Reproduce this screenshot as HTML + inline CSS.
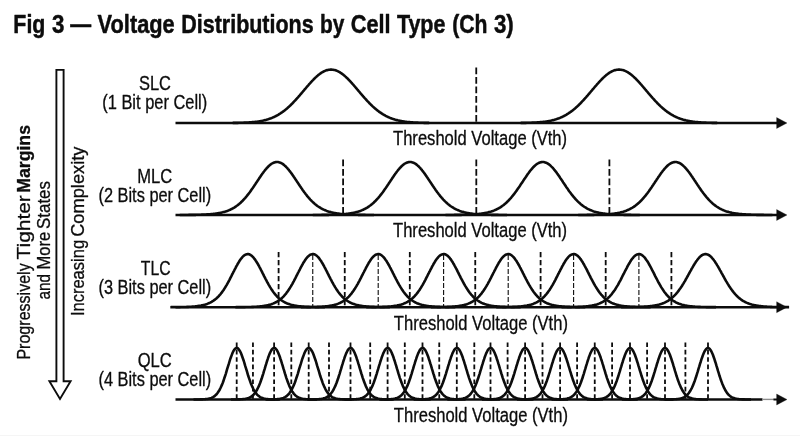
<!DOCTYPE html>
<html><head><meta charset="utf-8"><title>Fig 3</title>
<style>html,body{margin:0;padding:0;background:#fff;}body{width:800px;height:436px;overflow:hidden;font-family:"Liberation Sans",sans-serif;}</style></head>
<body>
<svg width="800" height="436" viewBox="0 0 800 436" style="display:block;will-change:transform;transform:translateZ(0)">
<rect width="800" height="436" fill="#ffffff"/>
<g font-family="Liberation Sans, sans-serif" fill="#0c0c0c" stroke="#0c0c0c" stroke-width="0.3" stroke-linejoin="round">
<g stroke-width="0.5">
<text transform="translate(13.36,32.8) scale(0.8015,1)" font-size="26.6" font-weight="700">Fig</text>
<text transform="translate(52.10,32.8) scale(0.8388,1)" font-size="26.6" font-weight="700">3</text>
<text transform="translate(70.30,32.8) scale(0.7857,1)" font-size="26.6" font-weight="700">—</text>
<text transform="translate(97.59,32.8) scale(0.8201,1)" font-size="26.6" font-weight="700">Voltage</text>
<text transform="translate(181.30,32.8) scale(0.8071,1)" font-size="26.6" font-weight="700">Distributions</text>
<text transform="translate(320.04,32.8) scale(0.7862,1)" font-size="26.6" font-weight="700">by</text>
<text transform="translate(350.73,32.8) scale(0.8163,1)" font-size="26.6" font-weight="700">Cell</text>
<text transform="translate(396.88,32.8) scale(0.8087,1)" font-size="26.6" font-weight="700">Type</text>
<text transform="translate(452.14,32.8) scale(0.7966,1)" font-size="26.6" font-weight="700">(Ch</text>
<text transform="translate(493.95,32.8) scale(0.8372,1)" font-size="26.6" font-weight="700">3)</text>
</g>
<text transform="translate(29.6,359.6) rotate(-90)" font-size="19.0"  textLength="96.3" lengthAdjust="spacingAndGlyphs">Progressively</text>
<text transform="translate(29.6,259.5) rotate(-90)" font-size="19.0"  textLength="64.3" lengthAdjust="spacingAndGlyphs">Tighter</text>
<text transform="translate(29.6,192.8) rotate(-90)" font-size="19.0" font-weight="700" textLength="67.8" lengthAdjust="spacingAndGlyphs">Margins</text>
<text transform="translate(49.5,299.4) rotate(-90)" font-size="19.0"  textLength="25.4" lengthAdjust="spacingAndGlyphs">and</text>
<text transform="translate(49.5,269.6) rotate(-90)" font-size="19.0"  textLength="37.8" lengthAdjust="spacingAndGlyphs">More</text>
<text transform="translate(49.5,229.0) rotate(-90)" font-size="19.0"  textLength="48.0" lengthAdjust="spacingAndGlyphs">States</text>
<text transform="translate(83.5,316.1) rotate(-90)" font-size="19.0"  textLength="76.2" lengthAdjust="spacingAndGlyphs">Increasing</text>
<text transform="translate(83.5,236.8) rotate(-90)" font-size="19.0"  textLength="90.2" lengthAdjust="spacingAndGlyphs">Complexity</text>
<path d="M56.4,69.9 H63.6 V381.2 H70.6 L60,399.0 L49.4,381.2 H56.4 Z" fill="#fff" stroke="#0c0c0c" stroke-width="1.9" stroke-linejoin="miter"/>
<text transform="translate(138.96,90.1) scale(0.8480,1)" font-size="19.4">SLC</text>
<text transform="translate(102.22,109.0) scale(0.8479,1)" font-size="19.4">(1 Bit per Cell)</text>
<text transform="translate(393.03,145.2) scale(0.8548,1)" font-size="19.4">Threshold Voltage (Vth)</text>
<line x1="476.25" y1="67.4" x2="476.25" y2="123.0" stroke="#0c0c0c" stroke-width="1.8" stroke-dasharray="6.8 2.7"/>
<line x1="175.5" y1="123.0" x2="778" y2="123.0" stroke="#0c0c0c" stroke-width="2.4"/>
<path d="M776.6,117.5 L787,123.0 L776.6,128.5 Z" fill="#0c0c0c"/>
<path d="M232.7,122.92 L233.5,122.91 L234.2,122.90 L235.0,122.89 L235.7,122.88 L236.5,122.87 L237.2,122.85 L238.0,122.84 L238.7,122.82 L239.5,122.81 L240.2,122.79 L241.0,122.77 L241.7,122.75 L242.5,122.72 L243.2,122.70 L244.0,122.67 L244.7,122.64 L245.5,122.61 L246.2,122.57 L247.0,122.53 L247.7,122.49 L248.5,122.45 L249.2,122.40 L250.0,122.35 L250.7,122.29 L251.5,122.23 L252.2,122.17 L253.0,122.10 L253.7,122.03 L254.5,121.95 L255.2,121.87 L256.0,121.78 L256.7,121.68 L257.5,121.58 L258.2,121.47 L259.0,121.36 L259.7,121.23 L260.5,121.10 L261.2,120.96 L262.0,120.82 L262.7,120.66 L263.5,120.49 L264.2,120.32 L265.0,120.13 L265.7,119.94 L266.5,119.73 L267.2,119.51 L268.0,119.28 L268.7,119.04 L269.5,118.79 L270.2,118.52 L271.0,118.24 L271.7,117.95 L272.5,117.64 L273.2,117.31 L274.0,116.98 L274.7,116.62 L275.5,116.25 L276.2,115.87 L277.0,115.47 L277.7,115.05 L278.5,114.61 L279.2,114.16 L280.0,113.69 L280.7,113.21 L281.5,112.70 L282.2,112.18 L283.0,111.64 L283.7,111.08 L284.5,110.51 L285.2,109.91 L286.0,109.30 L286.7,108.67 L287.5,108.02 L288.2,107.36 L289.0,106.68 L289.7,105.98 L290.5,105.26 L291.2,104.53 L292.0,103.78 L292.7,103.02 L293.5,102.24 L294.2,101.45 L295.0,100.65 L295.7,99.83 L296.5,99.00 L297.2,98.16 L298.0,97.32 L298.7,96.46 L299.5,95.59 L300.2,94.72 L301.0,93.84 L301.7,92.96 L302.5,92.07 L303.2,91.18 L304.0,90.29 L304.7,89.40 L305.5,88.51 L306.2,87.63 L307.0,86.75 L307.7,85.88 L308.5,85.01 L309.2,84.16 L310.0,83.31 L310.7,82.48 L311.5,81.66 L312.2,80.85 L313.0,80.06 L313.7,79.29 L314.5,78.54 L315.2,77.82 L316.0,77.11 L316.7,76.43 L317.5,75.77 L318.2,75.14 L319.0,74.54 L319.7,73.97 L320.5,73.43 L321.2,72.92 L322.0,72.44 L322.7,72.00 L323.5,71.59 L324.2,71.22 L325.0,70.89 L325.7,70.59 L326.5,70.33 L327.2,70.11 L328.0,69.93 L328.7,69.79 L329.5,69.68 L330.2,69.62 L331.0,69.60 L331.7,69.62 L332.5,69.68 L333.2,69.78 L334.0,69.92 L334.7,70.09 L335.5,70.31 L336.2,70.57 L337.0,70.86 L337.7,71.19 L338.5,71.56 L339.2,71.97 L340.0,72.41 L340.7,72.88 L341.5,73.39 L342.2,73.92 L343.0,74.49 L343.7,75.09 L344.5,75.72 L345.2,76.37 L346.0,77.05 L346.7,77.76 L347.5,78.48 L348.2,79.23 L349.0,80.00 L349.7,80.79 L350.5,81.59 L351.2,82.41 L352.0,83.24 L352.7,84.09 L353.5,84.94 L354.2,85.81 L355.0,86.68 L355.7,87.56 L356.5,88.44 L357.2,89.33 L358.0,90.22 L358.7,91.11 L359.5,92.00 L360.2,92.89 L361.0,93.77 L361.7,94.65 L362.5,95.52 L363.2,96.39 L364.0,97.25 L364.7,98.10 L365.5,98.94 L366.2,99.77 L367.0,100.58 L367.7,101.39 L368.5,102.18 L369.2,102.96 L370.0,103.72 L370.7,104.47 L371.5,105.20 L372.2,105.92 L373.0,106.62 L373.7,107.30 L374.5,107.97 L375.2,108.62 L376.0,109.25 L376.7,109.86 L377.5,110.46 L378.2,111.04 L379.0,111.60 L379.7,112.14 L380.5,112.66 L381.2,113.17 L382.0,113.65 L382.7,114.13 L383.5,114.58 L384.2,115.01 L385.0,115.43 L385.7,115.84 L386.5,116.22 L387.2,116.59 L388.0,116.95 L388.7,117.29 L389.5,117.61 L390.2,117.92 L391.0,118.22 L391.7,118.50 L392.5,118.77 L393.2,119.02 L394.0,119.27 L394.7,119.50 L395.5,119.71 L396.2,119.92 L397.0,120.12 L397.7,120.31 L398.5,120.48 L399.2,120.65 L400.0,120.80 L400.7,120.95 L401.5,121.09 L402.2,121.22 L403.0,121.35 L403.7,121.46 L404.5,121.57 L405.2,121.67 L406.0,121.77 L406.7,121.86 L407.5,121.94 L408.2,122.02 L409.0,122.10 L409.7,122.16 L410.5,122.23 L411.2,122.29 L412.0,122.34 L412.7,122.39 L413.5,122.44 L414.2,122.49 L415.0,122.53 L415.7,122.57 L416.5,122.60 L417.2,122.64 L418.0,122.67 L418.7,122.69 L419.5,122.72 L420.2,122.74 L421.0,122.77 L421.7,122.79 L422.5,122.81 L423.2,122.82 L424.0,122.84 L424.7,122.85 L425.5,122.87 L426.2,122.88 L427.0,122.89 L427.7,122.90 L428.5,122.91 L429.2,122.92" fill="none" stroke="#0c0c0c" stroke-width="2.6" stroke-linejoin="round"/>
<path d="M520.7,122.92 L521.5,122.91 L522.2,122.90 L523.0,122.89 L523.7,122.88 L524.5,122.87 L525.2,122.85 L526.0,122.84 L526.7,122.82 L527.5,122.81 L528.2,122.79 L529.0,122.77 L529.7,122.75 L530.5,122.72 L531.2,122.70 L532.0,122.67 L532.7,122.64 L533.5,122.61 L534.2,122.57 L535.0,122.53 L535.7,122.49 L536.5,122.45 L537.2,122.40 L538.0,122.35 L538.7,122.29 L539.5,122.23 L540.2,122.17 L541.0,122.10 L541.7,122.03 L542.5,121.95 L543.2,121.87 L544.0,121.78 L544.7,121.68 L545.5,121.58 L546.2,121.47 L547.0,121.36 L547.7,121.23 L548.5,121.10 L549.2,120.96 L550.0,120.82 L550.7,120.66 L551.5,120.49 L552.2,120.32 L553.0,120.13 L553.7,119.94 L554.5,119.73 L555.2,119.51 L556.0,119.28 L556.7,119.04 L557.5,118.79 L558.2,118.52 L559.0,118.24 L559.7,117.95 L560.5,117.64 L561.2,117.31 L562.0,116.98 L562.7,116.62 L563.5,116.25 L564.2,115.87 L565.0,115.47 L565.7,115.05 L566.5,114.61 L567.2,114.16 L568.0,113.69 L568.7,113.21 L569.5,112.70 L570.2,112.18 L571.0,111.64 L571.7,111.08 L572.5,110.51 L573.2,109.91 L574.0,109.30 L574.7,108.67 L575.5,108.02 L576.2,107.36 L577.0,106.68 L577.7,105.98 L578.5,105.26 L579.2,104.53 L580.0,103.78 L580.7,103.02 L581.5,102.24 L582.2,101.45 L583.0,100.65 L583.7,99.83 L584.5,99.00 L585.2,98.16 L586.0,97.32 L586.7,96.46 L587.5,95.59 L588.2,94.72 L589.0,93.84 L589.7,92.96 L590.5,92.07 L591.2,91.18 L592.0,90.29 L592.7,89.40 L593.5,88.51 L594.2,87.63 L595.0,86.75 L595.7,85.88 L596.5,85.01 L597.2,84.16 L598.0,83.31 L598.7,82.48 L599.5,81.66 L600.2,80.85 L601.0,80.06 L601.7,79.29 L602.5,78.54 L603.2,77.82 L604.0,77.11 L604.7,76.43 L605.5,75.77 L606.2,75.14 L607.0,74.54 L607.7,73.97 L608.5,73.43 L609.2,72.92 L610.0,72.44 L610.7,72.00 L611.5,71.59 L612.2,71.22 L613.0,70.89 L613.7,70.59 L614.5,70.33 L615.2,70.11 L616.0,69.93 L616.7,69.79 L617.5,69.68 L618.2,69.62 L619.0,69.60 L619.7,69.62 L620.5,69.68 L621.2,69.78 L622.0,69.92 L622.7,70.09 L623.5,70.31 L624.2,70.57 L625.0,70.86 L625.7,71.19 L626.5,71.56 L627.2,71.97 L628.0,72.41 L628.7,72.88 L629.5,73.39 L630.2,73.92 L631.0,74.49 L631.7,75.09 L632.5,75.72 L633.2,76.37 L634.0,77.05 L634.7,77.76 L635.5,78.48 L636.2,79.23 L637.0,80.00 L637.7,80.79 L638.5,81.59 L639.2,82.41 L640.0,83.24 L640.7,84.09 L641.5,84.94 L642.2,85.81 L643.0,86.68 L643.7,87.56 L644.5,88.44 L645.2,89.33 L646.0,90.22 L646.7,91.11 L647.5,92.00 L648.2,92.89 L649.0,93.77 L649.7,94.65 L650.5,95.52 L651.2,96.39 L652.0,97.25 L652.7,98.10 L653.5,98.94 L654.2,99.77 L655.0,100.58 L655.7,101.39 L656.5,102.18 L657.2,102.96 L658.0,103.72 L658.7,104.47 L659.5,105.20 L660.2,105.92 L661.0,106.62 L661.7,107.30 L662.5,107.97 L663.2,108.62 L664.0,109.25 L664.7,109.86 L665.5,110.46 L666.2,111.04 L667.0,111.60 L667.7,112.14 L668.5,112.66 L669.2,113.17 L670.0,113.65 L670.7,114.13 L671.5,114.58 L672.2,115.01 L673.0,115.43 L673.7,115.84 L674.5,116.22 L675.2,116.59 L676.0,116.95 L676.7,117.29 L677.5,117.61 L678.2,117.92 L679.0,118.22 L679.7,118.50 L680.5,118.77 L681.2,119.02 L682.0,119.27 L682.7,119.50 L683.5,119.71 L684.2,119.92 L685.0,120.12 L685.7,120.31 L686.5,120.48 L687.2,120.65 L688.0,120.80 L688.7,120.95 L689.5,121.09 L690.2,121.22 L691.0,121.35 L691.7,121.46 L692.5,121.57 L693.2,121.67 L694.0,121.77 L694.7,121.86 L695.5,121.94 L696.2,122.02 L697.0,122.10 L697.7,122.16 L698.5,122.23 L699.2,122.29 L700.0,122.34 L700.7,122.39 L701.5,122.44 L702.2,122.49 L703.0,122.53 L703.7,122.57 L704.5,122.60 L705.2,122.64 L706.0,122.67 L706.7,122.69 L707.5,122.72 L708.2,122.74 L709.0,122.77 L709.7,122.79 L710.5,122.81 L711.2,122.82 L712.0,122.84 L712.7,122.85 L713.5,122.87 L714.2,122.88 L715.0,122.89 L715.7,122.90 L716.5,122.91 L717.2,122.92" fill="none" stroke="#0c0c0c" stroke-width="2.6" stroke-linejoin="round"/>
<text transform="translate(137.13,182.5) scale(0.8548,1)" font-size="19.4">MLC</text>
<text transform="translate(98.48,201.6) scale(0.8435,1)" font-size="19.4">(2 Bits per Cell)</text>
<text transform="translate(393.03,237.2) scale(0.8548,1)" font-size="19.4">Threshold Voltage (Vth)</text>
<line x1="343.1" y1="159.4" x2="343.1" y2="215.0" stroke="#0c0c0c" stroke-width="1.8" stroke-dasharray="6.8 2.7"/>
<line x1="476.3" y1="159.4" x2="476.3" y2="215.0" stroke="#0c0c0c" stroke-width="1.8" stroke-dasharray="6.8 2.7"/>
<line x1="609.4" y1="159.4" x2="609.4" y2="215.0" stroke="#0c0c0c" stroke-width="1.8" stroke-dasharray="6.8 2.7"/>
<line x1="175.5" y1="215.0" x2="778" y2="215.0" stroke="#0c0c0c" stroke-width="2.4"/>
<path d="M776.6,209.5 L787,215.0 L776.6,220.5 Z" fill="#0c0c0c"/>
<path d="M179.8,214.98 L180.6,214.97 L181.3,214.97 L182.1,214.97 L182.8,214.96 L183.6,214.96 L184.3,214.96 L185.1,214.95 L185.8,214.95 L186.6,214.94 L187.3,214.94 L188.1,214.93 L188.8,214.92 L189.6,214.92 L190.3,214.91 L191.1,214.90 L191.8,214.89 L192.6,214.88 L193.3,214.87 L194.1,214.86 L194.8,214.84 L195.6,214.83 L196.3,214.81 L197.1,214.80 L197.8,214.78 L198.6,214.76 L199.3,214.74 L200.1,214.72 L200.8,214.69 L201.6,214.67 L202.3,214.64 L203.1,214.61 L203.8,214.57 L204.6,214.54 L205.3,214.50 L206.1,214.46 L206.8,214.42 L207.6,214.37 L208.3,214.32 L209.1,214.27 L209.8,214.21 L210.6,214.15 L211.3,214.08 L212.1,214.01 L212.8,213.94 L213.6,213.85 L214.3,213.77 L215.1,213.67 L215.8,213.57 L216.6,213.47 L217.3,213.35 L218.1,213.23 L218.8,213.10 L219.6,212.96 L220.3,212.81 L221.1,212.66 L221.8,212.49 L222.6,212.31 L223.3,212.12 L224.1,211.91 L224.8,211.69 L225.6,211.46 L226.3,211.22 L227.1,210.96 L227.8,210.68 L228.6,210.39 L229.3,210.07 L230.1,209.74 L230.8,209.39 L231.6,209.02 L232.3,208.63 L233.1,208.22 L233.8,207.78 L234.6,207.32 L235.3,206.84 L236.1,206.33 L236.8,205.80 L237.6,205.23 L238.3,204.65 L239.1,204.03 L239.8,203.39 L240.6,202.72 L241.3,202.02 L242.1,201.29 L242.8,200.53 L243.6,199.74 L244.3,198.93 L245.1,198.08 L245.8,197.21 L246.6,196.31 L247.3,195.38 L248.1,194.43 L248.8,193.45 L249.6,192.45 L250.3,191.43 L251.1,190.38 L251.8,189.32 L252.6,188.24 L253.3,187.14 L254.1,186.03 L254.8,184.91 L255.6,183.79 L256.3,182.65 L257.1,181.52 L257.8,180.39 L258.6,179.26 L259.3,178.13 L260.1,177.02 L260.8,175.93 L261.6,174.85 L262.3,173.79 L263.1,172.75 L263.8,171.75 L264.6,170.77 L265.3,169.83 L266.1,168.93 L266.8,168.07 L267.6,167.26 L268.3,166.50 L269.1,165.78 L269.8,165.13 L270.6,164.52 L271.3,163.98 L272.1,163.50 L272.8,163.09 L273.6,162.74 L274.3,162.45 L275.1,162.24 L275.8,162.09 L276.6,162.01 L277.3,162.01 L278.1,162.07 L278.8,162.20 L279.6,162.40 L280.3,162.67 L281.1,163.01 L281.8,163.41 L282.6,163.88 L283.3,164.41 L284.1,165.00 L284.8,165.65 L285.6,166.35 L286.3,167.10 L287.1,167.91 L287.8,168.76 L288.6,169.65 L289.3,170.58 L290.1,171.55 L290.8,172.55 L291.6,173.58 L292.3,174.63 L293.1,175.71 L293.8,176.80 L294.6,177.91 L295.3,179.03 L296.1,180.16 L296.8,181.29 L297.6,182.43 L298.3,183.56 L299.1,184.69 L299.8,185.81 L300.6,186.92 L301.3,188.02 L302.1,189.10 L302.8,190.17 L303.6,191.22 L304.3,192.25 L305.1,193.25 L305.8,194.24 L306.6,195.19 L307.3,196.13 L308.1,197.03 L308.8,197.91 L309.6,198.76 L310.3,199.58 L311.1,200.37 L311.8,201.14 L312.6,201.87 L313.3,202.58 L314.1,203.26 L314.8,203.91 L315.6,204.53 L316.3,205.12 L317.1,205.69 L317.8,206.22 L318.6,206.74 L319.3,207.23 L320.1,207.69 L320.8,208.13 L321.6,208.55 L322.3,208.95 L323.1,209.32 L323.8,209.67 L324.6,210.01 L325.3,210.32 L326.1,210.62 L326.8,210.90 L327.6,211.17 L328.3,211.42 L329.1,211.65 L329.8,211.87 L330.6,212.08 L331.3,212.27 L332.1,212.45 L332.8,212.62 L333.6,212.78 L334.3,212.93 L335.1,213.08 L335.8,213.21 L336.6,213.33 L337.3,213.45 L338.1,213.55 L338.8,213.65 L339.6,213.75 L340.3,213.84 L341.1,213.92 L341.8,214.00 L342.6,214.07 L343.3,214.14 L344.1,214.20 L344.8,214.26 L345.6,214.31 L346.3,214.36 L347.1,214.41 L347.8,214.45 L348.6,214.49 L349.3,214.53 L350.1,214.57 L350.8,214.60 L351.6,214.63 L352.3,214.66 L353.1,214.69 L353.8,214.71 L354.6,214.73 L355.3,214.76 L356.1,214.77 L356.8,214.79 L357.6,214.81 L358.3,214.83 L359.1,214.84 L359.8,214.85 L360.6,214.87 L361.3,214.88 L362.1,214.89 L362.8,214.90 L363.6,214.91 L364.3,214.91 L365.1,214.92 L365.8,214.93 L366.6,214.93 L367.3,214.94 L368.1,214.95 L368.8,214.95 L369.6,214.96 L370.3,214.96 L371.1,214.96 L371.8,214.97 L372.6,214.97 L373.3,214.97 L374.1,214.98" fill="none" stroke="#0c0c0c" stroke-width="2.6" stroke-linejoin="round"/>
<path d="M312.8,214.98 L313.6,214.97 L314.3,214.97 L315.1,214.97 L315.8,214.96 L316.6,214.96 L317.3,214.96 L318.1,214.95 L318.8,214.95 L319.6,214.94 L320.3,214.94 L321.1,214.93 L321.8,214.92 L322.6,214.92 L323.3,214.91 L324.1,214.90 L324.8,214.89 L325.6,214.88 L326.3,214.87 L327.1,214.86 L327.8,214.84 L328.6,214.83 L329.3,214.81 L330.1,214.80 L330.8,214.78 L331.6,214.76 L332.3,214.74 L333.1,214.72 L333.8,214.69 L334.6,214.67 L335.3,214.64 L336.1,214.61 L336.8,214.57 L337.6,214.54 L338.3,214.50 L339.1,214.46 L339.8,214.42 L340.6,214.37 L341.3,214.32 L342.1,214.27 L342.8,214.21 L343.6,214.15 L344.3,214.08 L345.1,214.01 L345.8,213.94 L346.6,213.85 L347.3,213.77 L348.1,213.67 L348.8,213.57 L349.6,213.47 L350.3,213.35 L351.1,213.23 L351.8,213.10 L352.6,212.96 L353.3,212.81 L354.1,212.66 L354.8,212.49 L355.6,212.31 L356.3,212.12 L357.1,211.91 L357.8,211.69 L358.6,211.46 L359.3,211.22 L360.1,210.96 L360.8,210.68 L361.6,210.39 L362.3,210.07 L363.1,209.74 L363.8,209.39 L364.6,209.02 L365.3,208.63 L366.1,208.22 L366.8,207.78 L367.6,207.32 L368.3,206.84 L369.1,206.33 L369.8,205.80 L370.6,205.23 L371.3,204.65 L372.1,204.03 L372.8,203.39 L373.6,202.72 L374.3,202.02 L375.1,201.29 L375.8,200.53 L376.6,199.74 L377.3,198.93 L378.1,198.08 L378.8,197.21 L379.6,196.31 L380.3,195.38 L381.1,194.43 L381.8,193.45 L382.6,192.45 L383.3,191.43 L384.1,190.38 L384.8,189.32 L385.6,188.24 L386.3,187.14 L387.1,186.03 L387.8,184.91 L388.6,183.79 L389.3,182.65 L390.1,181.52 L390.8,180.39 L391.6,179.26 L392.3,178.13 L393.1,177.02 L393.8,175.93 L394.6,174.85 L395.3,173.79 L396.1,172.75 L396.8,171.75 L397.6,170.77 L398.3,169.83 L399.1,168.93 L399.8,168.07 L400.6,167.26 L401.3,166.50 L402.1,165.78 L402.8,165.13 L403.6,164.52 L404.3,163.98 L405.1,163.50 L405.8,163.09 L406.6,162.74 L407.3,162.45 L408.1,162.24 L408.8,162.09 L409.6,162.01 L410.3,162.01 L411.1,162.07 L411.8,162.20 L412.6,162.40 L413.3,162.67 L414.1,163.01 L414.8,163.41 L415.6,163.88 L416.3,164.41 L417.1,165.00 L417.8,165.65 L418.6,166.35 L419.3,167.10 L420.1,167.91 L420.8,168.76 L421.6,169.65 L422.3,170.58 L423.1,171.55 L423.8,172.55 L424.6,173.58 L425.3,174.63 L426.1,175.71 L426.8,176.80 L427.6,177.91 L428.3,179.03 L429.1,180.16 L429.8,181.29 L430.6,182.43 L431.3,183.56 L432.1,184.69 L432.8,185.81 L433.6,186.92 L434.3,188.02 L435.1,189.10 L435.8,190.17 L436.6,191.22 L437.3,192.25 L438.1,193.25 L438.8,194.24 L439.6,195.19 L440.3,196.13 L441.1,197.03 L441.8,197.91 L442.6,198.76 L443.3,199.58 L444.1,200.37 L444.8,201.14 L445.6,201.87 L446.3,202.58 L447.1,203.26 L447.8,203.91 L448.6,204.53 L449.3,205.12 L450.1,205.69 L450.8,206.22 L451.6,206.74 L452.3,207.23 L453.1,207.69 L453.8,208.13 L454.6,208.55 L455.3,208.95 L456.1,209.32 L456.8,209.67 L457.6,210.01 L458.3,210.32 L459.1,210.62 L459.8,210.90 L460.6,211.17 L461.3,211.42 L462.1,211.65 L462.8,211.87 L463.6,212.08 L464.3,212.27 L465.1,212.45 L465.8,212.62 L466.6,212.78 L467.3,212.93 L468.1,213.08 L468.8,213.21 L469.6,213.33 L470.3,213.45 L471.1,213.55 L471.8,213.65 L472.6,213.75 L473.3,213.84 L474.1,213.92 L474.8,214.00 L475.6,214.07 L476.3,214.14 L477.1,214.20 L477.8,214.26 L478.6,214.31 L479.3,214.36 L480.1,214.41 L480.8,214.45 L481.6,214.49 L482.3,214.53 L483.1,214.57 L483.8,214.60 L484.6,214.63 L485.3,214.66 L486.1,214.69 L486.8,214.71 L487.6,214.73 L488.3,214.76 L489.1,214.77 L489.8,214.79 L490.6,214.81 L491.3,214.83 L492.1,214.84 L492.8,214.85 L493.6,214.87 L494.3,214.88 L495.1,214.89 L495.8,214.90 L496.6,214.91 L497.3,214.91 L498.1,214.92 L498.8,214.93 L499.6,214.93 L500.3,214.94 L501.1,214.95 L501.8,214.95 L502.6,214.96 L503.3,214.96 L504.1,214.96 L504.8,214.97 L505.6,214.97 L506.3,214.97 L507.1,214.98" fill="none" stroke="#0c0c0c" stroke-width="2.6" stroke-linejoin="round"/>
<path d="M445.5,214.98 L446.3,214.97 L447.0,214.97 L447.8,214.97 L448.5,214.96 L449.3,214.96 L450.0,214.96 L450.8,214.95 L451.5,214.95 L452.3,214.94 L453.0,214.94 L453.8,214.93 L454.5,214.92 L455.3,214.92 L456.0,214.91 L456.8,214.90 L457.5,214.89 L458.3,214.88 L459.0,214.87 L459.8,214.86 L460.5,214.84 L461.3,214.83 L462.0,214.81 L462.8,214.80 L463.5,214.78 L464.3,214.76 L465.0,214.74 L465.8,214.72 L466.5,214.69 L467.3,214.67 L468.0,214.64 L468.8,214.61 L469.5,214.57 L470.3,214.54 L471.0,214.50 L471.8,214.46 L472.5,214.42 L473.3,214.37 L474.0,214.32 L474.8,214.27 L475.5,214.21 L476.3,214.15 L477.0,214.08 L477.8,214.01 L478.5,213.94 L479.3,213.85 L480.0,213.77 L480.8,213.67 L481.5,213.57 L482.3,213.47 L483.0,213.35 L483.8,213.23 L484.5,213.10 L485.3,212.96 L486.0,212.81 L486.8,212.66 L487.5,212.49 L488.3,212.31 L489.0,212.12 L489.8,211.91 L490.5,211.69 L491.3,211.46 L492.0,211.22 L492.8,210.96 L493.5,210.68 L494.3,210.39 L495.0,210.07 L495.8,209.74 L496.5,209.39 L497.3,209.02 L498.0,208.63 L498.8,208.22 L499.5,207.78 L500.3,207.32 L501.0,206.84 L501.8,206.33 L502.5,205.80 L503.3,205.23 L504.0,204.65 L504.8,204.03 L505.5,203.39 L506.3,202.72 L507.0,202.02 L507.8,201.29 L508.5,200.53 L509.3,199.74 L510.0,198.93 L510.8,198.08 L511.5,197.21 L512.2,196.31 L513.0,195.38 L513.8,194.43 L514.5,193.45 L515.2,192.45 L516.0,191.43 L516.8,190.38 L517.5,189.32 L518.2,188.24 L519.0,187.14 L519.8,186.03 L520.5,184.91 L521.2,183.79 L522.0,182.65 L522.8,181.52 L523.5,180.39 L524.2,179.26 L525.0,178.13 L525.8,177.02 L526.5,175.93 L527.2,174.85 L528.0,173.79 L528.8,172.75 L529.5,171.75 L530.2,170.77 L531.0,169.83 L531.8,168.93 L532.5,168.07 L533.2,167.26 L534.0,166.50 L534.8,165.78 L535.5,165.13 L536.2,164.52 L537.0,163.98 L537.8,163.50 L538.5,163.09 L539.2,162.74 L540.0,162.45 L540.8,162.24 L541.5,162.09 L542.2,162.01 L543.0,162.01 L543.8,162.07 L544.5,162.20 L545.2,162.40 L546.0,162.67 L546.8,163.01 L547.5,163.41 L548.2,163.88 L549.0,164.41 L549.8,165.00 L550.5,165.65 L551.2,166.35 L552.0,167.10 L552.8,167.91 L553.5,168.76 L554.2,169.65 L555.0,170.58 L555.8,171.55 L556.5,172.55 L557.2,173.58 L558.0,174.63 L558.8,175.71 L559.5,176.80 L560.2,177.91 L561.0,179.03 L561.8,180.16 L562.5,181.29 L563.2,182.43 L564.0,183.56 L564.8,184.69 L565.5,185.81 L566.2,186.92 L567.0,188.02 L567.8,189.10 L568.5,190.17 L569.2,191.22 L570.0,192.25 L570.8,193.25 L571.5,194.24 L572.2,195.19 L573.0,196.13 L573.8,197.03 L574.5,197.91 L575.2,198.76 L576.0,199.58 L576.8,200.37 L577.5,201.14 L578.2,201.87 L579.0,202.58 L579.8,203.26 L580.5,203.91 L581.2,204.53 L582.0,205.12 L582.8,205.69 L583.5,206.22 L584.2,206.74 L585.0,207.23 L585.8,207.69 L586.5,208.13 L587.2,208.55 L588.0,208.95 L588.8,209.32 L589.5,209.67 L590.2,210.01 L591.0,210.32 L591.8,210.62 L592.5,210.90 L593.2,211.17 L594.0,211.42 L594.8,211.65 L595.5,211.87 L596.2,212.08 L597.0,212.27 L597.8,212.45 L598.5,212.62 L599.2,212.78 L600.0,212.93 L600.8,213.08 L601.5,213.21 L602.2,213.33 L603.0,213.45 L603.8,213.55 L604.5,213.65 L605.2,213.75 L606.0,213.84 L606.8,213.92 L607.5,214.00 L608.2,214.07 L609.0,214.14 L609.8,214.20 L610.5,214.26 L611.2,214.31 L612.0,214.36 L612.8,214.41 L613.5,214.45 L614.2,214.49 L615.0,214.53 L615.8,214.57 L616.5,214.60 L617.2,214.63 L618.0,214.66 L618.8,214.69 L619.5,214.71 L620.2,214.73 L621.0,214.76 L621.8,214.77 L622.5,214.79 L623.2,214.81 L624.0,214.83 L624.8,214.84 L625.5,214.85 L626.2,214.87 L627.0,214.88 L627.8,214.89 L628.5,214.90 L629.2,214.91 L630.0,214.91 L630.8,214.92 L631.5,214.93 L632.2,214.93 L633.0,214.94 L633.8,214.95 L634.5,214.95 L635.2,214.96 L636.0,214.96 L636.8,214.96 L637.5,214.97 L638.2,214.97 L639.0,214.97 L639.8,214.98" fill="none" stroke="#0c0c0c" stroke-width="2.6" stroke-linejoin="round"/>
<path d="M578.2,214.98 L578.9,214.97 L579.7,214.97 L580.4,214.97 L581.2,214.96 L581.9,214.96 L582.7,214.96 L583.4,214.95 L584.2,214.95 L584.9,214.94 L585.7,214.94 L586.4,214.93 L587.2,214.92 L587.9,214.92 L588.7,214.91 L589.4,214.90 L590.2,214.89 L590.9,214.88 L591.7,214.87 L592.4,214.86 L593.2,214.84 L593.9,214.83 L594.7,214.81 L595.4,214.80 L596.2,214.78 L596.9,214.76 L597.7,214.74 L598.4,214.72 L599.2,214.69 L599.9,214.67 L600.7,214.64 L601.4,214.61 L602.2,214.57 L602.9,214.54 L603.7,214.50 L604.4,214.46 L605.2,214.42 L605.9,214.37 L606.7,214.32 L607.4,214.27 L608.2,214.21 L608.9,214.15 L609.7,214.08 L610.4,214.01 L611.2,213.94 L611.9,213.85 L612.7,213.77 L613.4,213.67 L614.2,213.57 L614.9,213.47 L615.7,213.35 L616.4,213.23 L617.2,213.10 L617.9,212.96 L618.7,212.81 L619.4,212.66 L620.2,212.49 L620.9,212.31 L621.7,212.12 L622.4,211.91 L623.2,211.69 L623.9,211.46 L624.7,211.22 L625.4,210.96 L626.2,210.68 L626.9,210.39 L627.7,210.07 L628.4,209.74 L629.2,209.39 L629.9,209.02 L630.7,208.63 L631.4,208.22 L632.2,207.78 L632.9,207.32 L633.7,206.84 L634.4,206.33 L635.2,205.80 L635.9,205.23 L636.7,204.65 L637.4,204.03 L638.2,203.39 L638.9,202.72 L639.7,202.02 L640.4,201.29 L641.2,200.53 L641.9,199.74 L642.7,198.93 L643.4,198.08 L644.2,197.21 L644.9,196.31 L645.7,195.38 L646.4,194.43 L647.2,193.45 L647.9,192.45 L648.7,191.43 L649.4,190.38 L650.2,189.32 L650.9,188.24 L651.7,187.14 L652.4,186.03 L653.2,184.91 L653.9,183.79 L654.7,182.65 L655.4,181.52 L656.2,180.39 L656.9,179.26 L657.7,178.13 L658.4,177.02 L659.2,175.93 L659.9,174.85 L660.7,173.79 L661.4,172.75 L662.2,171.75 L662.9,170.77 L663.7,169.83 L664.4,168.93 L665.2,168.07 L665.9,167.26 L666.7,166.50 L667.4,165.78 L668.2,165.13 L668.9,164.52 L669.7,163.98 L670.4,163.50 L671.2,163.09 L671.9,162.74 L672.7,162.45 L673.4,162.24 L674.2,162.09 L674.9,162.01 L675.7,162.01 L676.4,162.07 L677.2,162.20 L677.9,162.40 L678.7,162.67 L679.4,163.01 L680.2,163.41 L680.9,163.88 L681.7,164.41 L682.4,165.00 L683.2,165.65 L683.9,166.35 L684.7,167.10 L685.4,167.91 L686.2,168.76 L686.9,169.65 L687.7,170.58 L688.4,171.55 L689.2,172.55 L689.9,173.58 L690.7,174.63 L691.4,175.71 L692.2,176.80 L692.9,177.91 L693.7,179.03 L694.4,180.16 L695.2,181.29 L695.9,182.43 L696.7,183.56 L697.4,184.69 L698.2,185.81 L698.9,186.92 L699.7,188.02 L700.4,189.10 L701.2,190.17 L701.9,191.22 L702.7,192.25 L703.4,193.25 L704.2,194.24 L704.9,195.19 L705.7,196.13 L706.4,197.03 L707.2,197.91 L707.9,198.76 L708.7,199.58 L709.4,200.37 L710.2,201.14 L710.9,201.87 L711.7,202.58 L712.4,203.26 L713.2,203.91 L713.9,204.53 L714.7,205.12 L715.4,205.69 L716.2,206.22 L716.9,206.74 L717.7,207.23 L718.4,207.69 L719.2,208.13 L719.9,208.55 L720.7,208.95 L721.4,209.32 L722.2,209.67 L722.9,210.01 L723.7,210.32 L724.4,210.62 L725.2,210.90 L725.9,211.17 L726.7,211.42 L727.4,211.65 L728.2,211.87 L728.9,212.08 L729.7,212.27 L730.4,212.45 L731.2,212.62 L731.9,212.78 L732.7,212.93 L733.4,213.08 L734.2,213.21 L734.9,213.33 L735.7,213.45 L736.4,213.55 L737.2,213.65 L737.9,213.75 L738.7,213.84 L739.4,213.92 L740.2,214.00 L740.9,214.07 L741.7,214.14 L742.4,214.20 L743.2,214.26 L743.9,214.31 L744.7,214.36 L745.4,214.41 L746.2,214.45 L746.9,214.49 L747.7,214.53 L748.4,214.57 L749.2,214.60 L749.9,214.63 L750.7,214.66 L751.4,214.69 L752.2,214.71 L752.9,214.73 L753.7,214.76 L754.4,214.77 L755.2,214.79 L755.9,214.81 L756.7,214.83 L757.4,214.84 L758.2,214.85 L758.9,214.87 L759.7,214.88 L760.4,214.89 L761.2,214.90 L761.9,214.91 L762.7,214.91 L763.4,214.92 L764.2,214.93 L764.9,214.93 L765.7,214.94 L766.4,214.95 L767.2,214.95 L767.9,214.96 L768.7,214.96 L769.4,214.96 L770.2,214.97 L770.9,214.97 L771.7,214.97 L772.4,214.98" fill="none" stroke="#0c0c0c" stroke-width="2.6" stroke-linejoin="round"/>
<text transform="translate(140.85,274.5) scale(0.8123,1)" font-size="19.4">TLC</text>
<text transform="translate(98.48,293.6) scale(0.8435,1)" font-size="19.4">(3 Bits per Cell)</text>
<text transform="translate(393.83,329.8) scale(0.8548,1)" font-size="19.4">Threshold Voltage (Vth)</text>
<line x1="278.6" y1="252.0" x2="278.6" y2="307.2" stroke="#0c0c0c" stroke-width="1.8" stroke-dasharray="5.2 2.8"/>
<line x1="344.75" y1="252.0" x2="344.75" y2="307.2" stroke="#0c0c0c" stroke-width="1.8" stroke-dasharray="5.2 2.8"/>
<line x1="409.8" y1="252.0" x2="409.8" y2="307.2" stroke="#0c0c0c" stroke-width="1.8" stroke-dasharray="5.2 2.8"/>
<line x1="475.25" y1="252.0" x2="475.25" y2="307.2" stroke="#0c0c0c" stroke-width="1.8" stroke-dasharray="5.2 2.8"/>
<line x1="540.6" y1="252.0" x2="540.6" y2="307.2" stroke="#0c0c0c" stroke-width="1.8" stroke-dasharray="5.2 2.8"/>
<line x1="605.7" y1="252.0" x2="605.7" y2="307.2" stroke="#0c0c0c" stroke-width="1.8" stroke-dasharray="5.2 2.8"/>
<line x1="671.4" y1="252.0" x2="671.4" y2="307.2" stroke="#0c0c0c" stroke-width="1.8" stroke-dasharray="5.2 2.8"/>
<line x1="312.75" y1="255.1" x2="312.75" y2="307.2" stroke="#0c0c0c" stroke-width="1.1" stroke-dasharray="5 2"/>
<line x1="378.2" y1="255.1" x2="378.2" y2="307.2" stroke="#0c0c0c" stroke-width="1.1" stroke-dasharray="5 2"/>
<line x1="443.6" y1="255.1" x2="443.6" y2="307.2" stroke="#0c0c0c" stroke-width="1.1" stroke-dasharray="5 2"/>
<line x1="508.2" y1="255.1" x2="508.2" y2="307.2" stroke="#0c0c0c" stroke-width="1.1" stroke-dasharray="5 2"/>
<line x1="573.6" y1="255.1" x2="573.6" y2="307.2" stroke="#0c0c0c" stroke-width="1.1" stroke-dasharray="5 2"/>
<line x1="638.9" y1="255.1" x2="638.9" y2="307.2" stroke="#0c0c0c" stroke-width="1.1" stroke-dasharray="5 2"/>
<line x1="175.5" y1="307.2" x2="778" y2="307.2" stroke="#0c0c0c" stroke-width="2.4"/>
<path d="M776.6,301.7 L787,307.2 L776.6,312.7 Z" fill="#0c0c0c"/>
<path d="M170.3,307.18 L171.1,307.17 L171.8,307.17 L172.6,307.16 L173.3,307.16 L174.1,307.15 L174.8,307.15 L175.6,307.14 L176.3,307.14 L177.1,307.13 L177.8,307.12 L178.6,307.11 L179.3,307.10 L180.1,307.09 L180.8,307.07 L181.6,307.06 L182.3,307.04 L183.1,307.03 L183.8,307.01 L184.6,306.98 L185.3,306.96 L186.1,306.94 L186.8,306.91 L187.6,306.88 L188.3,306.84 L189.1,306.81 L189.8,306.77 L190.6,306.72 L191.3,306.68 L192.1,306.62 L192.8,306.57 L193.6,306.51 L194.3,306.44 L195.1,306.37 L195.8,306.29 L196.6,306.20 L197.3,306.11 L198.1,306.01 L198.8,305.90 L199.6,305.78 L200.3,305.66 L201.1,305.52 L201.8,305.37 L202.6,305.21 L203.3,305.03 L204.1,304.84 L204.8,304.64 L205.6,304.41 L206.3,304.17 L207.1,303.92 L207.8,303.64 L208.6,303.33 L209.3,303.01 L210.1,302.66 L210.8,302.28 L211.6,301.87 L212.3,301.43 L213.1,300.96 L213.8,300.45 L214.6,299.91 L215.3,299.33 L216.1,298.71 L216.8,298.05 L217.6,297.34 L218.3,296.59 L219.1,295.79 L219.8,294.94 L220.6,294.05 L221.3,293.10 L222.1,292.11 L222.8,291.06 L223.6,289.97 L224.3,288.83 L225.1,287.64 L225.8,286.40 L226.6,285.12 L227.3,283.80 L228.1,282.44 L228.8,281.05 L229.6,279.62 L230.3,278.17 L231.1,276.71 L231.8,275.22 L232.6,273.73 L233.3,272.24 L234.1,270.76 L234.8,269.29 L235.6,267.84 L236.3,266.43 L237.1,265.05 L237.8,263.72 L238.6,262.45 L239.3,261.24 L240.1,260.10 L240.8,259.04 L241.6,258.07 L242.3,257.19 L243.1,256.41 L243.8,255.74 L244.6,255.17 L245.3,254.73 L246.1,254.40 L246.8,254.19 L247.6,254.10 L248.3,254.14 L249.1,254.30 L249.8,254.58 L250.6,254.98 L251.3,255.50 L252.1,256.13 L252.8,256.86 L253.6,257.70 L254.3,258.64 L255.1,259.66 L255.8,260.77 L256.6,261.96 L257.4,263.21 L258.1,264.51 L258.9,265.87 L259.6,267.27 L260.4,268.71 L261.1,270.17 L261.9,271.65 L262.6,273.14 L263.4,274.63 L264.1,276.11 L264.9,277.59 L265.6,279.05 L266.4,280.48 L267.1,281.89 L267.9,283.26 L268.6,284.60 L269.4,285.89 L270.1,287.15 L270.9,288.36 L271.6,289.52 L272.4,290.63 L273.1,291.70 L273.9,292.71 L274.6,293.68 L275.4,294.59 L276.1,295.46 L276.9,296.27 L277.6,297.04 L278.4,297.77 L279.1,298.45 L279.9,299.09 L280.6,299.68 L281.4,300.24 L282.1,300.76 L282.9,301.25 L283.6,301.70 L284.4,302.12 L285.1,302.51 L285.9,302.87 L286.6,303.21 L287.4,303.52 L288.1,303.81 L288.9,304.07 L289.6,304.32 L290.4,304.55 L291.1,304.76 L291.9,304.96 L292.6,305.14 L293.4,305.31 L294.1,305.46 L294.9,305.60 L295.6,305.73 L296.4,305.86 L297.1,305.97 L297.9,306.07 L298.6,306.17 L299.4,306.26 L300.1,306.34 L300.9,306.41 L301.6,306.48 L302.4,306.54 L303.1,306.60 L303.9,306.66 L304.6,306.70 L305.4,306.75 L306.1,306.79 L306.9,306.83 L307.6,306.86 L308.4,306.90 L309.1,306.92 L309.9,306.95 L310.6,306.98 L311.4,307.00 L312.1,307.02 L312.9,307.04 L313.6,307.05 L314.4,307.07 L315.1,307.08 L315.9,307.09 L316.6,307.11 L317.4,307.12 L318.1,307.12 L318.9,307.13 L319.6,307.14 L320.4,307.15 L321.1,307.15 L321.9,307.16 L322.6,307.16 L323.4,307.17 L324.1,307.17 L324.9,307.17" fill="none" stroke="#0c0c0c" stroke-width="2.6" stroke-linejoin="round"/>
<path d="M235.3,307.18 L236.1,307.17 L236.8,307.17 L237.6,307.16 L238.3,307.16 L239.1,307.15 L239.8,307.15 L240.6,307.14 L241.3,307.14 L242.1,307.13 L242.8,307.12 L243.6,307.11 L244.3,307.10 L245.1,307.09 L245.8,307.07 L246.6,307.06 L247.3,307.04 L248.1,307.03 L248.8,307.01 L249.6,306.98 L250.3,306.96 L251.1,306.94 L251.8,306.91 L252.6,306.88 L253.3,306.84 L254.1,306.81 L254.8,306.77 L255.6,306.72 L256.4,306.68 L257.1,306.62 L257.9,306.57 L258.6,306.51 L259.4,306.44 L260.1,306.37 L260.9,306.29 L261.6,306.20 L262.4,306.11 L263.1,306.01 L263.9,305.90 L264.6,305.78 L265.4,305.66 L266.1,305.52 L266.9,305.37 L267.6,305.21 L268.4,305.03 L269.1,304.84 L269.9,304.64 L270.6,304.41 L271.4,304.17 L272.1,303.92 L272.9,303.64 L273.6,303.33 L274.4,303.01 L275.1,302.66 L275.9,302.28 L276.6,301.87 L277.4,301.43 L278.1,300.96 L278.9,300.45 L279.6,299.91 L280.4,299.33 L281.1,298.71 L281.9,298.05 L282.6,297.34 L283.4,296.59 L284.1,295.79 L284.9,294.94 L285.6,294.05 L286.4,293.10 L287.1,292.11 L287.9,291.06 L288.6,289.97 L289.4,288.83 L290.1,287.64 L290.9,286.40 L291.6,285.12 L292.4,283.80 L293.1,282.44 L293.9,281.05 L294.6,279.62 L295.4,278.17 L296.1,276.71 L296.9,275.22 L297.6,273.73 L298.4,272.24 L299.1,270.76 L299.9,269.29 L300.6,267.84 L301.4,266.43 L302.1,265.05 L302.9,263.72 L303.6,262.45 L304.4,261.24 L305.1,260.10 L305.9,259.04 L306.6,258.07 L307.4,257.19 L308.1,256.41 L308.9,255.74 L309.6,255.17 L310.4,254.73 L311.1,254.40 L311.9,254.19 L312.6,254.10 L313.4,254.14 L314.1,254.30 L314.9,254.58 L315.6,254.98 L316.4,255.50 L317.1,256.13 L317.9,256.86 L318.6,257.70 L319.4,258.64 L320.1,259.66 L320.9,260.77 L321.6,261.96 L322.4,263.21 L323.1,264.51 L323.9,265.87 L324.6,267.27 L325.4,268.71 L326.1,270.17 L326.9,271.65 L327.6,273.14 L328.4,274.63 L329.1,276.11 L329.9,277.59 L330.6,279.05 L331.4,280.48 L332.1,281.89 L332.9,283.26 L333.6,284.60 L334.4,285.89 L335.1,287.15 L335.9,288.36 L336.6,289.52 L337.4,290.63 L338.1,291.70 L338.9,292.71 L339.6,293.68 L340.4,294.59 L341.1,295.46 L341.9,296.27 L342.6,297.04 L343.4,297.77 L344.1,298.45 L344.9,299.09 L345.6,299.68 L346.4,300.24 L347.1,300.76 L347.9,301.25 L348.6,301.70 L349.4,302.12 L350.1,302.51 L350.9,302.87 L351.6,303.21 L352.4,303.52 L353.1,303.81 L353.9,304.07 L354.6,304.32 L355.4,304.55 L356.1,304.76 L356.9,304.96 L357.6,305.14 L358.4,305.31 L359.1,305.46 L359.9,305.60 L360.6,305.73 L361.4,305.86 L362.1,305.97 L362.9,306.07 L363.6,306.17 L364.4,306.26 L365.1,306.34 L365.9,306.41 L366.6,306.48 L367.4,306.54 L368.1,306.60 L368.9,306.66 L369.6,306.70 L370.4,306.75 L371.1,306.79 L371.9,306.83 L372.6,306.86 L373.4,306.90 L374.1,306.92 L374.9,306.95 L375.6,306.98 L376.4,307.00 L377.1,307.02 L377.9,307.04 L378.6,307.05 L379.4,307.07 L380.1,307.08 L380.9,307.09 L381.6,307.11 L382.4,307.12 L383.1,307.12 L383.9,307.13 L384.6,307.14 L385.4,307.15 L386.1,307.15 L386.9,307.16 L387.6,307.16 L388.4,307.17 L389.1,307.17 L389.9,307.17" fill="none" stroke="#0c0c0c" stroke-width="2.6" stroke-linejoin="round"/>
<path d="M300.8,307.18 L301.5,307.17 L302.3,307.17 L303.0,307.16 L303.8,307.16 L304.5,307.15 L305.3,307.15 L306.0,307.14 L306.8,307.14 L307.5,307.13 L308.3,307.12 L309.0,307.11 L309.8,307.10 L310.5,307.09 L311.3,307.07 L312.0,307.06 L312.8,307.04 L313.5,307.03 L314.3,307.01 L315.0,306.98 L315.8,306.96 L316.5,306.94 L317.3,306.91 L318.0,306.88 L318.8,306.84 L319.5,306.81 L320.3,306.77 L321.0,306.72 L321.8,306.68 L322.5,306.62 L323.3,306.57 L324.0,306.51 L324.8,306.44 L325.5,306.37 L326.3,306.29 L327.0,306.20 L327.8,306.11 L328.5,306.01 L329.3,305.90 L330.0,305.78 L330.8,305.66 L331.5,305.52 L332.3,305.37 L333.0,305.21 L333.8,305.03 L334.5,304.84 L335.3,304.64 L336.0,304.41 L336.8,304.17 L337.5,303.92 L338.3,303.64 L339.0,303.33 L339.8,303.01 L340.5,302.66 L341.3,302.28 L342.0,301.87 L342.8,301.43 L343.5,300.96 L344.3,300.45 L345.0,299.91 L345.8,299.33 L346.5,298.71 L347.3,298.05 L348.0,297.34 L348.8,296.59 L349.5,295.79 L350.3,294.94 L351.0,294.05 L351.8,293.10 L352.5,292.11 L353.3,291.06 L354.0,289.97 L354.8,288.83 L355.5,287.64 L356.3,286.40 L357.0,285.12 L357.8,283.80 L358.5,282.44 L359.3,281.05 L360.0,279.62 L360.8,278.17 L361.5,276.71 L362.3,275.22 L363.0,273.73 L363.8,272.24 L364.5,270.76 L365.3,269.29 L366.0,267.84 L366.8,266.43 L367.5,265.05 L368.3,263.72 L369.0,262.45 L369.8,261.24 L370.5,260.10 L371.3,259.04 L372.0,258.07 L372.8,257.19 L373.5,256.41 L374.3,255.74 L375.0,255.17 L375.8,254.73 L376.5,254.40 L377.3,254.19 L378.0,254.10 L378.8,254.14 L379.5,254.30 L380.3,254.58 L381.0,254.98 L381.8,255.50 L382.5,256.13 L383.3,256.86 L384.0,257.70 L384.8,258.64 L385.5,259.66 L386.3,260.77 L387.0,261.96 L387.8,263.21 L388.5,264.51 L389.3,265.87 L390.0,267.27 L390.8,268.71 L391.5,270.17 L392.3,271.65 L393.0,273.14 L393.8,274.63 L394.5,276.11 L395.3,277.59 L396.0,279.05 L396.8,280.48 L397.5,281.89 L398.3,283.26 L399.0,284.60 L399.8,285.89 L400.5,287.15 L401.3,288.36 L402.0,289.52 L402.8,290.63 L403.5,291.70 L404.3,292.71 L405.0,293.68 L405.8,294.59 L406.5,295.46 L407.3,296.27 L408.0,297.04 L408.8,297.77 L409.5,298.45 L410.3,299.09 L411.0,299.68 L411.8,300.24 L412.5,300.76 L413.3,301.25 L414.0,301.70 L414.8,302.12 L415.5,302.51 L416.3,302.87 L417.0,303.21 L417.8,303.52 L418.5,303.81 L419.3,304.07 L420.0,304.32 L420.8,304.55 L421.5,304.76 L422.3,304.96 L423.0,305.14 L423.8,305.31 L424.5,305.46 L425.3,305.60 L426.0,305.73 L426.8,305.86 L427.5,305.97 L428.3,306.07 L429.0,306.17 L429.8,306.26 L430.5,306.34 L431.3,306.41 L432.0,306.48 L432.8,306.54 L433.5,306.60 L434.3,306.66 L435.0,306.70 L435.8,306.75 L436.5,306.79 L437.3,306.83 L438.0,306.86 L438.8,306.90 L439.5,306.92 L440.3,306.95 L441.0,306.98 L441.8,307.00 L442.5,307.02 L443.3,307.04 L444.0,307.05 L444.8,307.07 L445.5,307.08 L446.3,307.09 L447.0,307.11 L447.8,307.12 L448.5,307.12 L449.3,307.13 L450.0,307.14 L450.8,307.15 L451.5,307.15 L452.3,307.16 L453.0,307.16 L453.8,307.17 L454.5,307.17 L455.3,307.17" fill="none" stroke="#0c0c0c" stroke-width="2.6" stroke-linejoin="round"/>
<path d="M366.2,307.18 L367.0,307.17 L367.7,307.17 L368.5,307.16 L369.2,307.16 L370.0,307.15 L370.7,307.15 L371.5,307.14 L372.2,307.14 L373.0,307.13 L373.7,307.12 L374.5,307.11 L375.2,307.10 L376.0,307.09 L376.7,307.07 L377.5,307.06 L378.2,307.04 L379.0,307.03 L379.7,307.01 L380.5,306.98 L381.2,306.96 L382.0,306.94 L382.7,306.91 L383.5,306.88 L384.2,306.84 L385.0,306.81 L385.7,306.77 L386.5,306.72 L387.2,306.68 L388.0,306.62 L388.7,306.57 L389.5,306.51 L390.2,306.44 L391.0,306.37 L391.7,306.29 L392.5,306.20 L393.2,306.11 L394.0,306.01 L394.7,305.90 L395.5,305.78 L396.2,305.66 L397.0,305.52 L397.7,305.37 L398.5,305.21 L399.2,305.03 L400.0,304.84 L400.7,304.64 L401.5,304.41 L402.2,304.17 L403.0,303.92 L403.7,303.64 L404.5,303.33 L405.2,303.01 L406.0,302.66 L406.7,302.28 L407.5,301.87 L408.2,301.43 L409.0,300.96 L409.7,300.45 L410.5,299.91 L411.2,299.33 L412.0,298.71 L412.7,298.05 L413.5,297.34 L414.2,296.59 L415.0,295.79 L415.7,294.94 L416.5,294.05 L417.2,293.10 L418.0,292.11 L418.7,291.06 L419.5,289.97 L420.2,288.83 L421.0,287.64 L421.7,286.40 L422.5,285.12 L423.2,283.80 L424.0,282.44 L424.7,281.05 L425.5,279.62 L426.2,278.17 L427.0,276.71 L427.7,275.22 L428.5,273.73 L429.2,272.24 L430.0,270.76 L430.7,269.29 L431.5,267.84 L432.2,266.43 L433.0,265.05 L433.7,263.72 L434.5,262.45 L435.2,261.24 L436.0,260.10 L436.7,259.04 L437.5,258.07 L438.2,257.19 L439.0,256.41 L439.7,255.74 L440.5,255.17 L441.2,254.73 L442.0,254.40 L442.7,254.19 L443.5,254.10 L444.2,254.14 L445.0,254.30 L445.7,254.58 L446.5,254.98 L447.2,255.50 L448.0,256.13 L448.7,256.86 L449.5,257.70 L450.2,258.64 L451.0,259.66 L451.7,260.77 L452.5,261.96 L453.2,263.21 L454.0,264.51 L454.7,265.87 L455.5,267.27 L456.2,268.71 L457.0,270.17 L457.7,271.65 L458.5,273.14 L459.2,274.63 L460.0,276.11 L460.7,277.59 L461.5,279.05 L462.2,280.48 L463.0,281.89 L463.7,283.26 L464.5,284.60 L465.2,285.89 L466.0,287.15 L466.7,288.36 L467.5,289.52 L468.2,290.63 L469.0,291.70 L469.7,292.71 L470.5,293.68 L471.2,294.59 L472.0,295.46 L472.7,296.27 L473.5,297.04 L474.2,297.77 L475.0,298.45 L475.7,299.09 L476.5,299.68 L477.2,300.24 L478.0,300.76 L478.7,301.25 L479.5,301.70 L480.2,302.12 L481.0,302.51 L481.7,302.87 L482.5,303.21 L483.2,303.52 L484.0,303.81 L484.7,304.07 L485.5,304.32 L486.2,304.55 L487.0,304.76 L487.7,304.96 L488.5,305.14 L489.2,305.31 L490.0,305.46 L490.7,305.60 L491.5,305.73 L492.2,305.86 L493.0,305.97 L493.7,306.07 L494.5,306.17 L495.2,306.26 L496.0,306.34 L496.7,306.41 L497.5,306.48 L498.2,306.54 L499.0,306.60 L499.7,306.66 L500.5,306.70 L501.2,306.75 L502.0,306.79 L502.7,306.83 L503.5,306.86 L504.2,306.90 L505.0,306.92 L505.7,306.95 L506.5,306.98 L507.2,307.00 L508.0,307.02 L508.7,307.04 L509.5,307.05 L510.2,307.07 L511.0,307.08 L511.7,307.09 L512.5,307.11 L513.2,307.12 L514.0,307.12 L514.7,307.13 L515.5,307.14 L516.2,307.15 L517.0,307.15 L517.7,307.16 L518.5,307.16 L519.2,307.17 L520.0,307.17 L520.7,307.17" fill="none" stroke="#0c0c0c" stroke-width="2.6" stroke-linejoin="round"/>
<path d="M430.8,307.18 L431.5,307.17 L432.3,307.17 L433.0,307.16 L433.8,307.16 L434.5,307.15 L435.3,307.15 L436.0,307.14 L436.8,307.14 L437.5,307.13 L438.3,307.12 L439.0,307.11 L439.8,307.10 L440.5,307.09 L441.3,307.07 L442.0,307.06 L442.8,307.04 L443.5,307.03 L444.3,307.01 L445.0,306.98 L445.8,306.96 L446.5,306.94 L447.3,306.91 L448.0,306.88 L448.8,306.84 L449.5,306.81 L450.3,306.77 L451.0,306.72 L451.8,306.68 L452.5,306.62 L453.3,306.57 L454.0,306.51 L454.8,306.44 L455.5,306.37 L456.3,306.29 L457.0,306.20 L457.8,306.11 L458.5,306.01 L459.3,305.90 L460.0,305.78 L460.8,305.66 L461.5,305.52 L462.3,305.37 L463.0,305.21 L463.8,305.03 L464.5,304.84 L465.3,304.64 L466.0,304.41 L466.8,304.17 L467.5,303.92 L468.3,303.64 L469.0,303.33 L469.8,303.01 L470.5,302.66 L471.3,302.28 L472.0,301.87 L472.8,301.43 L473.5,300.96 L474.3,300.45 L475.0,299.91 L475.8,299.33 L476.5,298.71 L477.3,298.05 L478.0,297.34 L478.8,296.59 L479.5,295.79 L480.3,294.94 L481.0,294.05 L481.8,293.10 L482.5,292.11 L483.3,291.06 L484.0,289.97 L484.8,288.83 L485.5,287.64 L486.3,286.40 L487.0,285.12 L487.8,283.80 L488.5,282.44 L489.3,281.05 L490.0,279.62 L490.8,278.17 L491.5,276.71 L492.3,275.22 L493.0,273.73 L493.8,272.24 L494.5,270.76 L495.3,269.29 L496.0,267.84 L496.8,266.43 L497.5,265.05 L498.3,263.72 L499.0,262.45 L499.8,261.24 L500.5,260.10 L501.3,259.04 L502.0,258.07 L502.8,257.19 L503.5,256.41 L504.3,255.74 L505.0,255.17 L505.8,254.73 L506.5,254.40 L507.3,254.19 L508.0,254.10 L508.8,254.14 L509.5,254.30 L510.3,254.58 L511.0,254.98 L511.8,255.50 L512.5,256.13 L513.3,256.86 L514.0,257.70 L514.8,258.64 L515.5,259.66 L516.3,260.77 L517.0,261.96 L517.8,263.21 L518.5,264.51 L519.3,265.87 L520.0,267.27 L520.8,268.71 L521.5,270.17 L522.3,271.65 L523.0,273.14 L523.8,274.63 L524.5,276.11 L525.3,277.59 L526.0,279.05 L526.8,280.48 L527.5,281.89 L528.3,283.26 L529.0,284.60 L529.8,285.89 L530.5,287.15 L531.3,288.36 L532.0,289.52 L532.8,290.63 L533.5,291.70 L534.3,292.71 L535.0,293.68 L535.8,294.59 L536.5,295.46 L537.3,296.27 L538.0,297.04 L538.8,297.77 L539.5,298.45 L540.3,299.09 L541.0,299.68 L541.8,300.24 L542.5,300.76 L543.3,301.25 L544.0,301.70 L544.8,302.12 L545.5,302.51 L546.3,302.87 L547.0,303.21 L547.8,303.52 L548.5,303.81 L549.3,304.07 L550.0,304.32 L550.8,304.55 L551.5,304.76 L552.3,304.96 L553.0,305.14 L553.8,305.31 L554.5,305.46 L555.3,305.60 L556.0,305.73 L556.8,305.86 L557.5,305.97 L558.3,306.07 L559.0,306.17 L559.8,306.26 L560.5,306.34 L561.3,306.41 L562.0,306.48 L562.8,306.54 L563.5,306.60 L564.3,306.66 L565.0,306.70 L565.8,306.75 L566.5,306.79 L567.3,306.83 L568.0,306.86 L568.8,306.90 L569.5,306.92 L570.3,306.95 L571.0,306.98 L571.8,307.00 L572.5,307.02 L573.3,307.04 L574.0,307.05 L574.8,307.07 L575.5,307.08 L576.3,307.09 L577.0,307.11 L577.8,307.12 L578.5,307.12 L579.3,307.13 L580.0,307.14 L580.8,307.15 L581.5,307.15 L582.3,307.16 L583.0,307.16 L583.8,307.17 L584.5,307.17 L585.3,307.17" fill="none" stroke="#0c0c0c" stroke-width="2.6" stroke-linejoin="round"/>
<path d="M496.2,307.18 L497.0,307.17 L497.7,307.17 L498.5,307.16 L499.2,307.16 L500.0,307.15 L500.7,307.15 L501.5,307.14 L502.2,307.14 L503.0,307.13 L503.7,307.12 L504.5,307.11 L505.2,307.10 L506.0,307.09 L506.7,307.07 L507.5,307.06 L508.2,307.04 L509.0,307.03 L509.7,307.01 L510.5,306.98 L511.2,306.96 L512.0,306.94 L512.7,306.91 L513.5,306.88 L514.2,306.84 L515.0,306.81 L515.7,306.77 L516.5,306.72 L517.2,306.68 L518.0,306.62 L518.7,306.57 L519.5,306.51 L520.2,306.44 L521.0,306.37 L521.7,306.29 L522.5,306.20 L523.2,306.11 L524.0,306.01 L524.7,305.90 L525.5,305.78 L526.2,305.66 L527.0,305.52 L527.7,305.37 L528.5,305.21 L529.2,305.03 L530.0,304.84 L530.7,304.64 L531.5,304.41 L532.2,304.17 L533.0,303.92 L533.7,303.64 L534.5,303.33 L535.2,303.01 L536.0,302.66 L536.7,302.28 L537.5,301.87 L538.2,301.43 L539.0,300.96 L539.7,300.45 L540.5,299.91 L541.2,299.33 L542.0,298.71 L542.7,298.05 L543.5,297.34 L544.2,296.59 L545.0,295.79 L545.7,294.94 L546.5,294.05 L547.2,293.10 L548.0,292.11 L548.7,291.06 L549.5,289.97 L550.2,288.83 L551.0,287.64 L551.7,286.40 L552.5,285.12 L553.2,283.80 L554.0,282.44 L554.7,281.05 L555.5,279.62 L556.2,278.17 L557.0,276.71 L557.7,275.22 L558.5,273.73 L559.2,272.24 L560.0,270.76 L560.7,269.29 L561.5,267.84 L562.2,266.43 L563.0,265.05 L563.7,263.72 L564.5,262.45 L565.2,261.24 L566.0,260.10 L566.7,259.04 L567.5,258.07 L568.2,257.19 L569.0,256.41 L569.7,255.74 L570.5,255.17 L571.2,254.73 L572.0,254.40 L572.7,254.19 L573.5,254.10 L574.2,254.14 L575.0,254.30 L575.7,254.58 L576.5,254.98 L577.2,255.50 L578.0,256.13 L578.7,256.86 L579.5,257.70 L580.2,258.64 L581.0,259.66 L581.7,260.77 L582.5,261.96 L583.2,263.21 L584.0,264.51 L584.7,265.87 L585.5,267.27 L586.2,268.71 L587.0,270.17 L587.7,271.65 L588.5,273.14 L589.2,274.63 L590.0,276.11 L590.7,277.59 L591.5,279.05 L592.2,280.48 L593.0,281.89 L593.7,283.26 L594.5,284.60 L595.2,285.89 L596.0,287.15 L596.7,288.36 L597.5,289.52 L598.2,290.63 L599.0,291.70 L599.7,292.71 L600.5,293.68 L601.2,294.59 L602.0,295.46 L602.7,296.27 L603.5,297.04 L604.2,297.77 L605.0,298.45 L605.7,299.09 L606.5,299.68 L607.2,300.24 L608.0,300.76 L608.7,301.25 L609.5,301.70 L610.2,302.12 L611.0,302.51 L611.7,302.87 L612.5,303.21 L613.2,303.52 L614.0,303.81 L614.7,304.07 L615.5,304.32 L616.2,304.55 L617.0,304.76 L617.7,304.96 L618.5,305.14 L619.2,305.31 L620.0,305.46 L620.7,305.60 L621.5,305.73 L622.2,305.86 L623.0,305.97 L623.7,306.07 L624.5,306.17 L625.2,306.26 L626.0,306.34 L626.7,306.41 L627.5,306.48 L628.2,306.54 L629.0,306.60 L629.7,306.66 L630.5,306.70 L631.2,306.75 L632.0,306.79 L632.7,306.83 L633.5,306.86 L634.2,306.90 L635.0,306.92 L635.7,306.95 L636.5,306.98 L637.2,307.00 L638.0,307.02 L638.7,307.04 L639.5,307.05 L640.2,307.07 L641.0,307.08 L641.7,307.09 L642.5,307.11 L643.2,307.12 L644.0,307.12 L644.7,307.13 L645.5,307.14 L646.2,307.15 L647.0,307.15 L647.7,307.16 L648.5,307.16 L649.2,307.17 L650.0,307.17 L650.7,307.17" fill="none" stroke="#0c0c0c" stroke-width="2.6" stroke-linejoin="round"/>
<path d="M561.5,307.18 L562.2,307.17 L563.0,307.17 L563.8,307.16 L564.5,307.16 L565.2,307.15 L566.0,307.15 L566.8,307.14 L567.5,307.14 L568.2,307.13 L569.0,307.12 L569.8,307.11 L570.5,307.10 L571.2,307.09 L572.0,307.07 L572.8,307.06 L573.5,307.04 L574.2,307.03 L575.0,307.01 L575.8,306.98 L576.5,306.96 L577.2,306.94 L578.0,306.91 L578.8,306.88 L579.5,306.84 L580.2,306.81 L581.0,306.77 L581.8,306.72 L582.5,306.68 L583.2,306.62 L584.0,306.57 L584.8,306.51 L585.5,306.44 L586.2,306.37 L587.0,306.29 L587.8,306.20 L588.5,306.11 L589.2,306.01 L590.0,305.90 L590.8,305.78 L591.5,305.66 L592.2,305.52 L593.0,305.37 L593.8,305.21 L594.5,305.03 L595.2,304.84 L596.0,304.64 L596.8,304.41 L597.5,304.17 L598.2,303.92 L599.0,303.64 L599.8,303.33 L600.5,303.01 L601.2,302.66 L602.0,302.28 L602.8,301.87 L603.5,301.43 L604.2,300.96 L605.0,300.45 L605.8,299.91 L606.5,299.33 L607.2,298.71 L608.0,298.05 L608.8,297.34 L609.5,296.59 L610.2,295.79 L611.0,294.94 L611.8,294.05 L612.5,293.10 L613.2,292.11 L614.0,291.06 L614.8,289.97 L615.5,288.83 L616.2,287.64 L617.0,286.40 L617.8,285.12 L618.5,283.80 L619.2,282.44 L620.0,281.05 L620.8,279.62 L621.5,278.17 L622.2,276.71 L623.0,275.22 L623.8,273.73 L624.5,272.24 L625.2,270.76 L626.0,269.29 L626.8,267.84 L627.5,266.43 L628.2,265.05 L629.0,263.72 L629.8,262.45 L630.5,261.24 L631.2,260.10 L632.0,259.04 L632.8,258.07 L633.5,257.19 L634.2,256.41 L635.0,255.74 L635.8,255.17 L636.5,254.73 L637.2,254.40 L638.0,254.19 L638.8,254.10 L639.5,254.14 L640.2,254.30 L641.0,254.58 L641.8,254.98 L642.5,255.50 L643.2,256.13 L644.0,256.86 L644.8,257.70 L645.5,258.64 L646.2,259.66 L647.0,260.77 L647.8,261.96 L648.5,263.21 L649.2,264.51 L650.0,265.87 L650.8,267.27 L651.5,268.71 L652.2,270.17 L653.0,271.65 L653.8,273.14 L654.5,274.63 L655.2,276.11 L656.0,277.59 L656.8,279.05 L657.5,280.48 L658.2,281.89 L659.0,283.26 L659.8,284.60 L660.5,285.89 L661.2,287.15 L662.0,288.36 L662.8,289.52 L663.5,290.63 L664.2,291.70 L665.0,292.71 L665.8,293.68 L666.5,294.59 L667.2,295.46 L668.0,296.27 L668.8,297.04 L669.5,297.77 L670.2,298.45 L671.0,299.09 L671.8,299.68 L672.5,300.24 L673.2,300.76 L674.0,301.25 L674.8,301.70 L675.5,302.12 L676.2,302.51 L677.0,302.87 L677.8,303.21 L678.5,303.52 L679.2,303.81 L680.0,304.07 L680.8,304.32 L681.5,304.55 L682.2,304.76 L683.0,304.96 L683.8,305.14 L684.5,305.31 L685.2,305.46 L686.0,305.60 L686.8,305.73 L687.5,305.86 L688.2,305.97 L689.0,306.07 L689.8,306.17 L690.5,306.26 L691.2,306.34 L692.0,306.41 L692.8,306.48 L693.5,306.54 L694.2,306.60 L695.0,306.66 L695.8,306.70 L696.5,306.75 L697.2,306.79 L698.0,306.83 L698.8,306.86 L699.5,306.90 L700.2,306.92 L701.0,306.95 L701.8,306.98 L702.5,307.00 L703.2,307.02 L704.0,307.04 L704.8,307.05 L705.5,307.07 L706.2,307.08 L707.0,307.09 L707.8,307.11 L708.5,307.12 L709.2,307.12 L710.0,307.13 L710.8,307.14 L711.5,307.15 L712.2,307.15 L713.0,307.16 L713.8,307.16 L714.5,307.17 L715.2,307.17 L716.0,307.17" fill="none" stroke="#0c0c0c" stroke-width="2.6" stroke-linejoin="round"/>
<path d="M621.1,307.18 L621.9,307.17 L622.6,307.17 L623.4,307.17 L624.1,307.16 L624.9,307.16 L625.6,307.15 L626.4,307.15 L627.1,307.14 L627.9,307.13 L628.6,307.13 L629.4,307.12 L630.1,307.11 L630.9,307.10 L631.6,307.09 L632.4,307.08 L633.1,307.06 L633.9,307.05 L634.6,307.03 L635.4,307.02 L636.1,307.00 L636.9,306.98 L637.6,306.96 L638.4,306.93 L639.1,306.91 L639.9,306.88 L640.6,306.85 L641.4,306.82 L642.1,306.78 L642.9,306.74 L643.6,306.70 L644.4,306.65 L645.1,306.60 L645.9,306.55 L646.6,306.49 L647.4,306.43 L648.1,306.37 L648.9,306.29 L649.6,306.22 L650.4,306.13 L651.1,306.04 L651.9,305.94 L652.6,305.84 L653.4,305.73 L654.1,305.61 L654.9,305.48 L655.6,305.34 L656.4,305.19 L657.1,305.02 L657.9,304.85 L658.6,304.66 L659.4,304.46 L660.1,304.25 L660.9,304.02 L661.6,303.77 L662.4,303.50 L663.1,303.21 L663.9,302.91 L664.6,302.58 L665.4,302.23 L666.1,301.85 L666.9,301.45 L667.6,301.02 L668.4,300.56 L669.1,300.07 L669.9,299.55 L670.6,298.99 L671.4,298.40 L672.1,297.78 L672.9,297.12 L673.6,296.42 L674.4,295.67 L675.1,294.89 L675.9,294.07 L676.6,293.21 L677.4,292.30 L678.1,291.36 L678.9,290.37 L679.6,289.34 L680.4,288.27 L681.1,287.16 L681.9,286.01 L682.6,284.82 L683.4,283.60 L684.1,282.35 L684.9,281.07 L685.6,279.77 L686.4,278.44 L687.1,277.10 L687.9,275.74 L688.6,274.38 L689.4,273.01 L690.1,271.64 L690.9,270.29 L691.6,268.94 L692.4,267.62 L693.1,266.33 L693.9,265.06 L694.6,263.84 L695.4,262.67 L696.1,261.54 L696.9,260.48 L697.6,259.48 L698.4,258.55 L699.1,257.69 L699.9,256.92 L700.6,256.23 L701.4,255.64 L702.1,255.13 L702.9,254.73 L703.6,254.42 L704.4,254.21 L705.1,254.11 L705.9,254.11 L706.6,254.22 L707.4,254.43 L708.1,254.73 L708.9,255.14 L709.6,255.65 L710.4,256.25 L711.1,256.94 L711.9,257.71 L712.6,258.57 L713.4,259.50 L714.1,260.50 L714.9,261.57 L715.6,262.69 L716.4,263.87 L717.1,265.09 L717.9,266.36 L718.6,267.65 L719.4,268.98 L720.1,270.32 L720.9,271.68 L721.6,273.04 L722.4,274.41 L723.1,275.77 L723.9,277.13 L724.6,278.47 L725.4,279.80 L726.1,281.10 L726.9,282.38 L727.6,283.63 L728.4,284.85 L729.1,286.03 L729.9,287.18 L730.6,288.29 L731.4,289.36 L732.1,290.39 L732.9,291.38 L733.6,292.33 L734.4,293.23 L735.1,294.09 L735.9,294.91 L736.6,295.69 L737.4,296.43 L738.1,297.13 L738.9,297.79 L739.6,298.42 L740.4,299.01 L741.1,299.56 L741.9,300.08 L742.6,300.57 L743.4,301.03 L744.1,301.46 L744.9,301.86 L745.6,302.24 L746.4,302.59 L747.1,302.91 L747.9,303.22 L748.6,303.51 L749.4,303.77 L750.1,304.02 L750.9,304.25 L751.6,304.47 L752.4,304.67 L753.1,304.86 L753.9,305.03 L754.6,305.19 L755.4,305.34 L756.1,305.48 L756.9,305.61 L757.6,305.73 L758.4,305.84 L759.1,305.95 L759.9,306.04 L760.6,306.13 L761.4,306.22 L762.1,306.29 L762.9,306.37 L763.6,306.43 L764.4,306.50 L765.1,306.55 L765.9,306.61 L766.6,306.65 L767.4,306.70 L768.1,306.74 L768.9,306.78 L769.6,306.82 L770.4,306.85 L771.1,306.88 L771.9,306.91 L772.6,306.93 L773.4,306.96 L774.1,306.98 L774.9,307.00 L775.6,307.02 L776.4,307.03 L777.1,307.05 L777.9,307.06 L778.6,307.08 L779.4,307.09 L780.1,307.10 L780.9,307.11 L781.6,307.12 L782.4,307.13 L783.1,307.13 L783.9,307.14 L784.6,307.15 L785.4,307.15 L786.1,307.16 L786.9,307.16 L787.6,307.17 L788.4,307.17 L789.1,307.17" fill="none" stroke="#0c0c0c" stroke-width="2.6" stroke-linejoin="round"/>
<text transform="translate(137.71,366.5) scale(0.8556,1)" font-size="19.4">QLC</text>
<text transform="translate(98.48,385.6) scale(0.8435,1)" font-size="19.4">(4 Bits per Cell)</text>
<text transform="translate(393.83,421.9) scale(0.8548,1)" font-size="19.4">Threshold Voltage (Vth)</text>
<line x1="236.7" y1="342.4" x2="236.7" y2="399.5" stroke="#0c0c0c" stroke-width="1.8" stroke-dasharray="4.6 2.8"/>
<line x1="252.95" y1="342.4" x2="252.95" y2="399.5" stroke="#0c0c0c" stroke-width="1.8" stroke-dasharray="4.6 2.8"/>
<line x1="274.1" y1="342.4" x2="274.1" y2="399.5" stroke="#0c0c0c" stroke-width="1.8" stroke-dasharray="4.6 2.8"/>
<line x1="291.3" y1="342.4" x2="291.3" y2="399.5" stroke="#0c0c0c" stroke-width="1.8" stroke-dasharray="4.6 2.8"/>
<line x1="308.7" y1="342.4" x2="308.7" y2="399.5" stroke="#0c0c0c" stroke-width="1.8" stroke-dasharray="4.6 2.8"/>
<line x1="329.0" y1="342.4" x2="329.0" y2="399.5" stroke="#0c0c0c" stroke-width="1.8" stroke-dasharray="4.6 2.8"/>
<line x1="350.5" y1="342.4" x2="350.5" y2="399.5" stroke="#0c0c0c" stroke-width="1.8" stroke-dasharray="4.6 2.8"/>
<line x1="370.2" y1="342.4" x2="370.2" y2="399.5" stroke="#0c0c0c" stroke-width="1.8" stroke-dasharray="4.6 2.8"/>
<line x1="387.6" y1="342.4" x2="387.6" y2="399.5" stroke="#0c0c0c" stroke-width="1.8" stroke-dasharray="4.6 2.8"/>
<line x1="404.8" y1="342.4" x2="404.8" y2="399.5" stroke="#0c0c0c" stroke-width="1.8" stroke-dasharray="4.6 2.8"/>
<line x1="422.5" y1="342.4" x2="422.5" y2="399.5" stroke="#0c0c0c" stroke-width="1.8" stroke-dasharray="4.6 2.8"/>
<line x1="439.25" y1="342.4" x2="439.25" y2="399.5" stroke="#0c0c0c" stroke-width="1.8" stroke-dasharray="4.6 2.8"/>
<line x1="456.8" y1="342.4" x2="456.8" y2="399.5" stroke="#0c0c0c" stroke-width="1.8" stroke-dasharray="4.6 2.8"/>
<line x1="474.3" y1="342.4" x2="474.3" y2="399.5" stroke="#0c0c0c" stroke-width="1.8" stroke-dasharray="4.6 2.8"/>
<line x1="490.5" y1="342.4" x2="490.5" y2="399.5" stroke="#0c0c0c" stroke-width="1.8" stroke-dasharray="4.6 2.8"/>
<line x1="507.6" y1="342.4" x2="507.6" y2="399.5" stroke="#0c0c0c" stroke-width="1.8" stroke-dasharray="4.6 2.8"/>
<line x1="525.1" y1="342.4" x2="525.1" y2="399.5" stroke="#0c0c0c" stroke-width="1.8" stroke-dasharray="4.6 2.8"/>
<line x1="542.5" y1="342.4" x2="542.5" y2="399.5" stroke="#0c0c0c" stroke-width="1.8" stroke-dasharray="4.6 2.8"/>
<line x1="560.1" y1="342.4" x2="560.1" y2="399.5" stroke="#0c0c0c" stroke-width="1.8" stroke-dasharray="4.6 2.8"/>
<line x1="577.1" y1="342.4" x2="577.1" y2="399.5" stroke="#0c0c0c" stroke-width="1.8" stroke-dasharray="4.6 2.8"/>
<line x1="594.75" y1="342.4" x2="594.75" y2="399.5" stroke="#0c0c0c" stroke-width="1.8" stroke-dasharray="4.6 2.8"/>
<line x1="612.1" y1="342.4" x2="612.1" y2="399.5" stroke="#0c0c0c" stroke-width="1.8" stroke-dasharray="4.6 2.8"/>
<line x1="630.0" y1="342.4" x2="630.0" y2="399.5" stroke="#0c0c0c" stroke-width="1.8" stroke-dasharray="4.6 2.8"/>
<line x1="647.1" y1="342.4" x2="647.1" y2="399.5" stroke="#0c0c0c" stroke-width="1.8" stroke-dasharray="4.6 2.8"/>
<line x1="665.0" y1="342.4" x2="665.0" y2="399.5" stroke="#0c0c0c" stroke-width="1.8" stroke-dasharray="4.6 2.8"/>
<line x1="685.4" y1="342.4" x2="685.4" y2="399.5" stroke="#0c0c0c" stroke-width="1.8" stroke-dasharray="4.6 2.8"/>
<line x1="708.0" y1="342.4" x2="708.0" y2="399.5" stroke="#0c0c0c" stroke-width="1.8" stroke-dasharray="4.6 2.8"/>
<line x1="175.5" y1="399.5" x2="762.5" y2="399.5" stroke="#0c0c0c" stroke-width="2.4"/>
<line x1="762.5" y1="399.4" x2="774" y2="399.4" stroke="#8e8e8e" stroke-width="1.4"/>
<line x1="773.5" y1="399.5" x2="778" y2="399.5" stroke="#0c0c0c" stroke-width="2.0"/>
<path d="M776.6,394.0 L787,399.5 L776.6,405.0 Z" fill="#0c0c0c"/>
<path d="M193.5,399.49 L194.2,399.48 L195.0,399.48 L195.8,399.48 L196.5,399.47 L197.2,399.46 L198.0,399.45 L198.8,399.44 L199.5,399.43 L200.2,399.41 L201.0,399.39 L201.8,399.37 L202.5,399.34 L203.2,399.30 L204.0,399.26 L204.8,399.21 L205.5,399.14 L206.2,399.07 L207.0,398.97 L207.8,398.86 L208.5,398.72 L209.2,398.56 L210.0,398.36 L210.8,398.13 L211.5,397.85 L212.2,397.53 L213.0,397.14 L213.8,396.68 L214.5,396.15 L215.2,395.54 L216.0,394.83 L216.8,394.01 L217.5,393.08 L218.2,392.03 L219.0,390.84 L219.8,389.51 L220.5,388.04 L221.2,386.43 L222.0,384.66 L222.8,382.75 L223.5,380.71 L224.2,378.54 L225.0,376.25 L225.8,373.87 L226.5,371.42 L227.2,368.92 L228.0,366.41 L228.8,363.92 L229.5,361.49 L230.2,359.15 L231.0,356.94 L231.8,354.90 L232.5,353.07 L233.2,351.48 L234.0,350.16 L234.8,349.14 L235.5,348.43 L236.2,348.06 L237.0,348.03 L237.8,348.33 L238.5,348.97 L239.2,349.93 L240.0,351.19 L240.8,352.73 L241.5,354.52 L242.2,356.52 L243.0,358.70 L243.8,361.01 L244.5,363.43 L245.2,365.91 L246.0,368.42 L246.8,370.92 L247.5,373.38 L248.2,375.78 L249.0,378.09 L249.8,380.28 L250.5,382.36 L251.2,384.29 L252.0,386.08 L252.8,387.73 L253.5,389.23 L254.2,390.58 L255.0,391.80 L255.8,392.88 L256.5,393.83 L257.2,394.67 L258.0,395.40 L258.8,396.04 L259.5,396.58 L260.2,397.05 L261.0,397.45 L261.8,397.79 L262.5,398.08 L263.2,398.32 L264.0,398.52 L264.8,398.69 L265.5,398.83 L266.2,398.95 L267.0,399.05 L267.8,399.13 L268.5,399.20 L269.2,399.25 L270.0,399.30 L270.8,399.33 L271.5,399.36 L272.2,399.39 L273.0,399.41 L273.8,399.43 L274.5,399.44 L275.2,399.45 L276.0,399.46 L276.8,399.47 L277.5,399.47 L278.2,399.48 L279.0,399.48 L279.8,399.49" fill="none" stroke="#0c0c0c" stroke-width="2.6" stroke-linejoin="round"/>
<path d="M230.9,399.49 L231.7,399.48 L232.4,399.48 L233.2,399.48 L233.9,399.47 L234.7,399.46 L235.4,399.45 L236.2,399.44 L236.9,399.43 L237.7,399.41 L238.4,399.39 L239.2,399.37 L239.9,399.34 L240.7,399.30 L241.4,399.26 L242.2,399.21 L242.9,399.14 L243.7,399.07 L244.4,398.97 L245.2,398.86 L245.9,398.72 L246.7,398.56 L247.4,398.36 L248.2,398.13 L248.9,397.85 L249.7,397.53 L250.4,397.14 L251.2,396.68 L251.9,396.15 L252.7,395.54 L253.4,394.83 L254.2,394.01 L254.9,393.08 L255.7,392.03 L256.4,390.84 L257.2,389.51 L257.9,388.04 L258.7,386.43 L259.4,384.66 L260.2,382.75 L260.9,380.71 L261.7,378.54 L262.4,376.25 L263.2,373.87 L263.9,371.42 L264.7,368.92 L265.4,366.41 L266.2,363.92 L266.9,361.49 L267.7,359.15 L268.4,356.94 L269.2,354.90 L269.9,353.07 L270.7,351.48 L271.4,350.16 L272.2,349.14 L272.9,348.43 L273.7,348.06 L274.4,348.03 L275.2,348.33 L275.9,348.97 L276.7,349.93 L277.4,351.19 L278.2,352.73 L278.9,354.52 L279.7,356.52 L280.4,358.70 L281.2,361.01 L281.9,363.43 L282.7,365.91 L283.4,368.42 L284.2,370.92 L284.9,373.38 L285.7,375.78 L286.4,378.09 L287.2,380.28 L287.9,382.36 L288.7,384.29 L289.4,386.08 L290.2,387.73 L290.9,389.23 L291.7,390.58 L292.4,391.80 L293.2,392.88 L293.9,393.83 L294.7,394.67 L295.4,395.40 L296.2,396.04 L296.9,396.58 L297.7,397.05 L298.4,397.45 L299.2,397.79 L299.9,398.08 L300.7,398.32 L301.4,398.52 L302.2,398.69 L302.9,398.83 L303.7,398.95 L304.4,399.05 L305.2,399.13 L305.9,399.20 L306.7,399.25 L307.4,399.30 L308.2,399.33 L308.9,399.36 L309.7,399.39 L310.4,399.41 L311.2,399.43 L311.9,399.44 L312.7,399.45 L313.4,399.46 L314.2,399.47 L314.9,399.47 L315.7,399.48 L316.4,399.48 L317.2,399.49" fill="none" stroke="#0c0c0c" stroke-width="2.6" stroke-linejoin="round"/>
<path d="M265.5,399.49 L266.2,399.48 L267.0,399.48 L267.8,399.48 L268.5,399.47 L269.2,399.46 L270.0,399.45 L270.8,399.44 L271.5,399.43 L272.2,399.41 L273.0,399.39 L273.8,399.37 L274.5,399.34 L275.2,399.30 L276.0,399.26 L276.8,399.21 L277.5,399.14 L278.2,399.07 L279.0,398.97 L279.8,398.86 L280.5,398.72 L281.2,398.56 L282.0,398.36 L282.8,398.13 L283.5,397.85 L284.2,397.53 L285.0,397.14 L285.8,396.68 L286.5,396.15 L287.2,395.54 L288.0,394.83 L288.8,394.01 L289.5,393.08 L290.2,392.03 L291.0,390.84 L291.8,389.51 L292.5,388.04 L293.2,386.43 L294.0,384.66 L294.8,382.75 L295.5,380.71 L296.2,378.54 L297.0,376.25 L297.8,373.87 L298.5,371.42 L299.2,368.92 L300.0,366.41 L300.8,363.92 L301.5,361.49 L302.2,359.15 L303.0,356.94 L303.8,354.90 L304.5,353.07 L305.2,351.48 L306.0,350.16 L306.8,349.14 L307.5,348.43 L308.2,348.06 L309.0,348.03 L309.8,348.33 L310.5,348.97 L311.2,349.93 L312.0,351.19 L312.8,352.73 L313.5,354.52 L314.2,356.52 L315.0,358.70 L315.8,361.01 L316.5,363.43 L317.2,365.91 L318.0,368.42 L318.8,370.92 L319.5,373.38 L320.2,375.78 L321.0,378.09 L321.8,380.28 L322.5,382.36 L323.2,384.29 L324.0,386.08 L324.8,387.73 L325.5,389.23 L326.2,390.58 L327.0,391.80 L327.8,392.88 L328.5,393.83 L329.2,394.67 L330.0,395.40 L330.8,396.04 L331.5,396.58 L332.2,397.05 L333.0,397.45 L333.8,397.79 L334.5,398.08 L335.2,398.32 L336.0,398.52 L336.8,398.69 L337.5,398.83 L338.2,398.95 L339.0,399.05 L339.8,399.13 L340.5,399.20 L341.2,399.25 L342.0,399.30 L342.8,399.33 L343.5,399.36 L344.2,399.39 L345.0,399.41 L345.8,399.43 L346.5,399.44 L347.2,399.45 L348.0,399.46 L348.8,399.47 L349.5,399.47 L350.2,399.48 L351.0,399.48 L351.8,399.49" fill="none" stroke="#0c0c0c" stroke-width="2.6" stroke-linejoin="round"/>
<path d="M307.3,399.49 L308.1,399.48 L308.8,399.48 L309.6,399.48 L310.3,399.47 L311.1,399.46 L311.8,399.45 L312.6,399.44 L313.3,399.43 L314.1,399.41 L314.8,399.39 L315.6,399.37 L316.3,399.34 L317.1,399.30 L317.8,399.26 L318.6,399.21 L319.3,399.14 L320.1,399.07 L320.8,398.97 L321.6,398.86 L322.3,398.72 L323.1,398.56 L323.8,398.36 L324.6,398.13 L325.3,397.85 L326.1,397.53 L326.8,397.14 L327.6,396.68 L328.3,396.15 L329.1,395.54 L329.8,394.83 L330.6,394.01 L331.3,393.08 L332.1,392.03 L332.8,390.84 L333.6,389.51 L334.3,388.04 L335.1,386.43 L335.8,384.66 L336.6,382.75 L337.3,380.71 L338.1,378.54 L338.8,376.25 L339.6,373.87 L340.3,371.42 L341.1,368.92 L341.8,366.41 L342.6,363.92 L343.3,361.49 L344.1,359.15 L344.8,356.94 L345.6,354.90 L346.3,353.07 L347.1,351.48 L347.8,350.16 L348.6,349.14 L349.3,348.43 L350.1,348.06 L350.8,348.03 L351.6,348.33 L352.3,348.97 L353.1,349.93 L353.8,351.19 L354.6,352.73 L355.3,354.52 L356.1,356.52 L356.8,358.70 L357.6,361.01 L358.3,363.43 L359.1,365.91 L359.8,368.42 L360.6,370.92 L361.3,373.38 L362.1,375.78 L362.8,378.09 L363.6,380.28 L364.3,382.36 L365.1,384.29 L365.8,386.08 L366.6,387.73 L367.3,389.23 L368.1,390.58 L368.8,391.80 L369.6,392.88 L370.3,393.83 L371.1,394.67 L371.8,395.40 L372.6,396.04 L373.3,396.58 L374.1,397.05 L374.8,397.45 L375.6,397.79 L376.3,398.08 L377.1,398.32 L377.8,398.52 L378.6,398.69 L379.3,398.83 L380.1,398.95 L380.8,399.05 L381.6,399.13 L382.3,399.20 L383.1,399.25 L383.8,399.30 L384.6,399.33 L385.3,399.36 L386.1,399.39 L386.8,399.41 L387.6,399.43 L388.3,399.44 L389.1,399.45 L389.8,399.46 L390.6,399.47 L391.3,399.47 L392.1,399.48 L392.8,399.48 L393.6,399.49" fill="none" stroke="#0c0c0c" stroke-width="2.6" stroke-linejoin="round"/>
<path d="M344.4,399.49 L345.2,399.48 L345.9,399.48 L346.7,399.48 L347.4,399.47 L348.2,399.46 L348.9,399.45 L349.7,399.44 L350.4,399.43 L351.2,399.41 L351.9,399.39 L352.7,399.37 L353.4,399.34 L354.2,399.30 L354.9,399.26 L355.7,399.21 L356.4,399.14 L357.2,399.07 L357.9,398.97 L358.7,398.86 L359.4,398.72 L360.2,398.56 L360.9,398.36 L361.7,398.13 L362.4,397.85 L363.2,397.53 L363.9,397.14 L364.7,396.68 L365.4,396.15 L366.2,395.54 L366.9,394.83 L367.7,394.01 L368.4,393.08 L369.2,392.03 L369.9,390.84 L370.7,389.51 L371.4,388.04 L372.2,386.43 L372.9,384.66 L373.7,382.75 L374.4,380.71 L375.2,378.54 L375.9,376.25 L376.7,373.87 L377.4,371.42 L378.2,368.92 L378.9,366.41 L379.7,363.92 L380.4,361.49 L381.2,359.15 L381.9,356.94 L382.7,354.90 L383.4,353.07 L384.2,351.48 L384.9,350.16 L385.7,349.14 L386.4,348.43 L387.2,348.06 L387.9,348.03 L388.7,348.33 L389.4,348.97 L390.2,349.93 L390.9,351.19 L391.7,352.73 L392.4,354.52 L393.2,356.52 L393.9,358.70 L394.7,361.01 L395.4,363.43 L396.2,365.91 L396.9,368.42 L397.7,370.92 L398.4,373.38 L399.2,375.78 L399.9,378.09 L400.7,380.28 L401.4,382.36 L402.2,384.29 L402.9,386.08 L403.7,387.73 L404.4,389.23 L405.2,390.58 L405.9,391.80 L406.7,392.88 L407.4,393.83 L408.2,394.67 L408.9,395.40 L409.7,396.04 L410.4,396.58 L411.2,397.05 L411.9,397.45 L412.7,397.79 L413.4,398.08 L414.2,398.32 L414.9,398.52 L415.7,398.69 L416.4,398.83 L417.2,398.95 L417.9,399.05 L418.7,399.13 L419.4,399.20 L420.2,399.25 L420.9,399.30 L421.7,399.33 L422.4,399.36 L423.2,399.39 L423.9,399.41 L424.7,399.43 L425.4,399.44 L426.2,399.45 L426.9,399.46 L427.7,399.47 L428.4,399.47 L429.2,399.48 L429.9,399.48 L430.7,399.49" fill="none" stroke="#0c0c0c" stroke-width="2.6" stroke-linejoin="round"/>
<path d="M379.3,399.49 L380.1,399.48 L380.8,399.48 L381.6,399.48 L382.3,399.47 L383.1,399.46 L383.8,399.45 L384.6,399.44 L385.3,399.43 L386.1,399.41 L386.8,399.39 L387.6,399.37 L388.3,399.34 L389.1,399.30 L389.8,399.26 L390.6,399.21 L391.3,399.14 L392.1,399.07 L392.8,398.97 L393.6,398.86 L394.3,398.72 L395.1,398.56 L395.8,398.36 L396.6,398.13 L397.3,397.85 L398.1,397.53 L398.8,397.14 L399.6,396.68 L400.3,396.15 L401.1,395.54 L401.8,394.83 L402.6,394.01 L403.3,393.08 L404.1,392.03 L404.8,390.84 L405.6,389.51 L406.3,388.04 L407.1,386.43 L407.8,384.66 L408.6,382.75 L409.3,380.71 L410.1,378.54 L410.8,376.25 L411.6,373.87 L412.3,371.42 L413.1,368.92 L413.8,366.41 L414.6,363.92 L415.3,361.49 L416.1,359.15 L416.8,356.94 L417.6,354.90 L418.3,353.07 L419.1,351.48 L419.8,350.16 L420.6,349.14 L421.3,348.43 L422.1,348.06 L422.8,348.03 L423.6,348.33 L424.3,348.97 L425.1,349.93 L425.8,351.19 L426.6,352.73 L427.3,354.52 L428.1,356.52 L428.8,358.70 L429.6,361.01 L430.3,363.43 L431.1,365.91 L431.8,368.42 L432.6,370.92 L433.3,373.38 L434.1,375.78 L434.8,378.09 L435.6,380.28 L436.3,382.36 L437.1,384.29 L437.8,386.08 L438.6,387.73 L439.3,389.23 L440.1,390.58 L440.8,391.80 L441.6,392.88 L442.3,393.83 L443.1,394.67 L443.8,395.40 L444.6,396.04 L445.3,396.58 L446.1,397.05 L446.8,397.45 L447.6,397.79 L448.3,398.08 L449.1,398.32 L449.8,398.52 L450.6,398.69 L451.3,398.83 L452.1,398.95 L452.8,399.05 L453.6,399.13 L454.3,399.20 L455.1,399.25 L455.8,399.30 L456.6,399.33 L457.3,399.36 L458.1,399.39 L458.8,399.41 L459.6,399.43 L460.3,399.44 L461.1,399.45 L461.8,399.46 L462.6,399.47 L463.3,399.47 L464.1,399.48 L464.8,399.48 L465.6,399.49" fill="none" stroke="#0c0c0c" stroke-width="2.6" stroke-linejoin="round"/>
<path d="M413.6,399.49 L414.4,399.48 L415.1,399.48 L415.9,399.48 L416.6,399.47 L417.4,399.46 L418.1,399.45 L418.9,399.44 L419.6,399.43 L420.4,399.41 L421.1,399.39 L421.9,399.37 L422.6,399.34 L423.4,399.30 L424.1,399.26 L424.9,399.21 L425.6,399.14 L426.4,399.07 L427.1,398.97 L427.9,398.86 L428.6,398.72 L429.4,398.56 L430.1,398.36 L430.9,398.13 L431.6,397.85 L432.4,397.53 L433.1,397.14 L433.9,396.68 L434.6,396.15 L435.4,395.54 L436.1,394.83 L436.9,394.01 L437.6,393.08 L438.4,392.03 L439.1,390.84 L439.9,389.51 L440.6,388.04 L441.4,386.43 L442.1,384.66 L442.9,382.75 L443.6,380.71 L444.4,378.54 L445.1,376.25 L445.9,373.87 L446.6,371.42 L447.4,368.92 L448.1,366.41 L448.9,363.92 L449.6,361.49 L450.4,359.15 L451.1,356.94 L451.9,354.90 L452.6,353.07 L453.4,351.48 L454.1,350.16 L454.9,349.14 L455.6,348.43 L456.4,348.06 L457.1,348.03 L457.9,348.33 L458.6,348.97 L459.4,349.93 L460.1,351.19 L460.9,352.73 L461.6,354.52 L462.4,356.52 L463.1,358.70 L463.9,361.01 L464.6,363.43 L465.4,365.91 L466.1,368.42 L466.9,370.92 L467.6,373.38 L468.4,375.78 L469.1,378.09 L469.9,380.28 L470.6,382.36 L471.4,384.29 L472.1,386.08 L472.9,387.73 L473.6,389.23 L474.4,390.58 L475.1,391.80 L475.9,392.88 L476.6,393.83 L477.4,394.67 L478.1,395.40 L478.9,396.04 L479.6,396.58 L480.4,397.05 L481.1,397.45 L481.9,397.79 L482.6,398.08 L483.4,398.32 L484.1,398.52 L484.9,398.69 L485.6,398.83 L486.4,398.95 L487.1,399.05 L487.9,399.13 L488.6,399.20 L489.4,399.25 L490.1,399.30 L490.9,399.33 L491.6,399.36 L492.4,399.39 L493.1,399.41 L493.9,399.43 L494.6,399.44 L495.4,399.45 L496.1,399.46 L496.9,399.47 L497.6,399.47 L498.4,399.48 L499.1,399.48 L499.9,399.49" fill="none" stroke="#0c0c0c" stroke-width="2.6" stroke-linejoin="round"/>
<path d="M447.3,399.49 L448.1,399.48 L448.8,399.48 L449.6,399.48 L450.3,399.47 L451.1,399.46 L451.8,399.45 L452.6,399.44 L453.3,399.43 L454.1,399.41 L454.8,399.39 L455.6,399.37 L456.3,399.34 L457.1,399.30 L457.8,399.26 L458.6,399.21 L459.3,399.14 L460.1,399.07 L460.8,398.97 L461.6,398.86 L462.3,398.72 L463.1,398.56 L463.8,398.36 L464.6,398.13 L465.3,397.85 L466.1,397.53 L466.8,397.14 L467.6,396.68 L468.3,396.15 L469.1,395.54 L469.8,394.83 L470.6,394.01 L471.3,393.08 L472.1,392.03 L472.8,390.84 L473.6,389.51 L474.3,388.04 L475.1,386.43 L475.8,384.66 L476.6,382.75 L477.3,380.71 L478.1,378.54 L478.8,376.25 L479.6,373.87 L480.3,371.42 L481.1,368.92 L481.8,366.41 L482.6,363.92 L483.3,361.49 L484.1,359.15 L484.8,356.94 L485.6,354.90 L486.3,353.07 L487.1,351.48 L487.8,350.16 L488.6,349.14 L489.3,348.43 L490.1,348.06 L490.8,348.03 L491.6,348.33 L492.3,348.97 L493.1,349.93 L493.8,351.19 L494.6,352.73 L495.3,354.52 L496.1,356.52 L496.8,358.70 L497.6,361.01 L498.3,363.43 L499.1,365.91 L499.8,368.42 L500.6,370.92 L501.3,373.38 L502.1,375.78 L502.8,378.09 L503.6,380.28 L504.3,382.36 L505.1,384.29 L505.8,386.08 L506.6,387.73 L507.3,389.23 L508.1,390.58 L508.8,391.80 L509.6,392.88 L510.3,393.83 L511.1,394.67 L511.8,395.40 L512.5,396.04 L513.3,396.58 L514.0,397.05 L514.8,397.45 L515.5,397.79 L516.3,398.08 L517.0,398.32 L517.8,398.52 L518.5,398.69 L519.3,398.83 L520.0,398.95 L520.8,399.05 L521.5,399.13 L522.3,399.20 L523.0,399.25 L523.8,399.30 L524.5,399.33 L525.3,399.36 L526.0,399.39 L526.8,399.41 L527.5,399.43 L528.3,399.44 L529.0,399.45 L529.8,399.46 L530.5,399.47 L531.3,399.47 L532.0,399.48 L532.8,399.48 L533.5,399.49" fill="none" stroke="#0c0c0c" stroke-width="2.6" stroke-linejoin="round"/>
<path d="M481.9,399.49 L482.7,399.48 L483.4,399.48 L484.2,399.48 L484.9,399.47 L485.7,399.46 L486.4,399.45 L487.2,399.44 L487.9,399.43 L488.7,399.41 L489.4,399.39 L490.2,399.37 L490.9,399.34 L491.7,399.30 L492.4,399.26 L493.2,399.21 L493.9,399.14 L494.7,399.07 L495.4,398.97 L496.2,398.86 L496.9,398.72 L497.7,398.56 L498.4,398.36 L499.2,398.13 L499.9,397.85 L500.7,397.53 L501.4,397.14 L502.2,396.68 L502.9,396.15 L503.7,395.54 L504.4,394.83 L505.2,394.01 L505.9,393.08 L506.7,392.03 L507.4,390.84 L508.2,389.51 L508.9,388.04 L509.7,386.43 L510.4,384.66 L511.2,382.75 L511.9,380.71 L512.7,378.54 L513.4,376.25 L514.2,373.87 L514.9,371.42 L515.7,368.92 L516.4,366.41 L517.2,363.92 L517.9,361.49 L518.7,359.15 L519.4,356.94 L520.2,354.90 L520.9,353.07 L521.7,351.48 L522.4,350.16 L523.2,349.14 L523.9,348.43 L524.7,348.06 L525.4,348.03 L526.2,348.33 L526.9,348.97 L527.7,349.93 L528.4,351.19 L529.2,352.73 L529.9,354.52 L530.7,356.52 L531.4,358.70 L532.2,361.01 L532.9,363.43 L533.7,365.91 L534.4,368.42 L535.2,370.92 L535.9,373.38 L536.7,375.78 L537.4,378.09 L538.2,380.28 L538.9,382.36 L539.7,384.29 L540.4,386.08 L541.2,387.73 L541.9,389.23 L542.7,390.58 L543.4,391.80 L544.2,392.88 L544.9,393.83 L545.7,394.67 L546.4,395.40 L547.2,396.04 L547.9,396.58 L548.7,397.05 L549.4,397.45 L550.2,397.79 L550.9,398.08 L551.7,398.32 L552.4,398.52 L553.2,398.69 L553.9,398.83 L554.7,398.95 L555.4,399.05 L556.2,399.13 L556.9,399.20 L557.7,399.25 L558.4,399.30 L559.2,399.33 L559.9,399.36 L560.7,399.39 L561.4,399.41 L562.2,399.43 L562.9,399.44 L563.7,399.45 L564.4,399.46 L565.2,399.47 L565.9,399.47 L566.7,399.48 L567.4,399.48 L568.2,399.49" fill="none" stroke="#0c0c0c" stroke-width="2.6" stroke-linejoin="round"/>
<path d="M516.9,399.49 L517.6,399.48 L518.4,399.48 L519.1,399.48 L519.9,399.47 L520.6,399.46 L521.4,399.45 L522.1,399.44 L522.9,399.43 L523.6,399.41 L524.4,399.39 L525.1,399.37 L525.9,399.34 L526.6,399.30 L527.4,399.26 L528.1,399.21 L528.9,399.14 L529.6,399.07 L530.4,398.97 L531.1,398.86 L531.9,398.72 L532.6,398.56 L533.4,398.36 L534.1,398.13 L534.9,397.85 L535.6,397.53 L536.4,397.14 L537.1,396.68 L537.9,396.15 L538.6,395.54 L539.4,394.83 L540.1,394.01 L540.9,393.08 L541.6,392.03 L542.4,390.84 L543.1,389.51 L543.9,388.04 L544.6,386.43 L545.4,384.66 L546.1,382.75 L546.9,380.71 L547.6,378.54 L548.4,376.25 L549.1,373.87 L549.9,371.42 L550.6,368.92 L551.4,366.41 L552.1,363.92 L552.9,361.49 L553.6,359.15 L554.4,356.94 L555.1,354.90 L555.9,353.07 L556.6,351.48 L557.4,350.16 L558.1,349.14 L558.9,348.43 L559.6,348.06 L560.4,348.03 L561.1,348.33 L561.9,348.97 L562.6,349.93 L563.4,351.19 L564.1,352.73 L564.9,354.52 L565.6,356.52 L566.4,358.70 L567.1,361.01 L567.9,363.43 L568.6,365.91 L569.4,368.42 L570.1,370.92 L570.9,373.38 L571.6,375.78 L572.4,378.09 L573.1,380.28 L573.9,382.36 L574.6,384.29 L575.4,386.08 L576.1,387.73 L576.9,389.23 L577.6,390.58 L578.4,391.80 L579.1,392.88 L579.9,393.83 L580.6,394.67 L581.4,395.40 L582.1,396.04 L582.9,396.58 L583.6,397.05 L584.4,397.45 L585.1,397.79 L585.9,398.08 L586.6,398.32 L587.4,398.52 L588.1,398.69 L588.9,398.83 L589.6,398.95 L590.4,399.05 L591.1,399.13 L591.9,399.20 L592.6,399.25 L593.4,399.30 L594.1,399.33 L594.9,399.36 L595.6,399.39 L596.4,399.41 L597.1,399.43 L597.9,399.44 L598.6,399.45 L599.4,399.46 L600.1,399.47 L600.9,399.47 L601.6,399.48 L602.4,399.48 L603.1,399.49" fill="none" stroke="#0c0c0c" stroke-width="2.6" stroke-linejoin="round"/>
<path d="M551.5,399.49 L552.3,399.48 L553.0,399.48 L553.8,399.48 L554.5,399.47 L555.3,399.46 L556.0,399.45 L556.8,399.44 L557.5,399.43 L558.3,399.41 L559.0,399.39 L559.8,399.37 L560.5,399.34 L561.3,399.30 L562.0,399.26 L562.8,399.21 L563.5,399.14 L564.3,399.07 L565.0,398.97 L565.8,398.86 L566.5,398.72 L567.3,398.56 L568.0,398.36 L568.8,398.13 L569.5,397.85 L570.3,397.53 L571.0,397.14 L571.8,396.68 L572.5,396.15 L573.3,395.54 L574.0,394.83 L574.8,394.01 L575.5,393.08 L576.3,392.03 L577.0,390.84 L577.8,389.51 L578.5,388.04 L579.3,386.43 L580.0,384.66 L580.8,382.75 L581.5,380.71 L582.3,378.54 L583.0,376.25 L583.8,373.87 L584.5,371.42 L585.3,368.92 L586.0,366.41 L586.8,363.92 L587.5,361.49 L588.3,359.15 L589.0,356.94 L589.8,354.90 L590.5,353.07 L591.3,351.48 L592.0,350.16 L592.8,349.14 L593.5,348.43 L594.3,348.06 L595.0,348.03 L595.8,348.33 L596.5,348.97 L597.3,349.93 L598.0,351.19 L598.8,352.73 L599.5,354.52 L600.3,356.52 L601.0,358.70 L601.8,361.01 L602.5,363.43 L603.3,365.91 L604.0,368.42 L604.8,370.92 L605.5,373.38 L606.3,375.78 L607.0,378.09 L607.8,380.28 L608.5,382.36 L609.3,384.29 L610.0,386.08 L610.8,387.73 L611.5,389.23 L612.3,390.58 L613.0,391.80 L613.8,392.88 L614.5,393.83 L615.3,394.67 L616.0,395.40 L616.8,396.04 L617.5,396.58 L618.3,397.05 L619.0,397.45 L619.8,397.79 L620.5,398.08 L621.3,398.32 L622.0,398.52 L622.8,398.69 L623.5,398.83 L624.3,398.95 L625.0,399.05 L625.8,399.13 L626.5,399.20 L627.3,399.25 L628.0,399.30 L628.8,399.33 L629.5,399.36 L630.3,399.39 L631.0,399.41 L631.8,399.43 L632.5,399.44 L633.3,399.45 L634.0,399.46 L634.8,399.47 L635.5,399.47 L636.3,399.48 L637.0,399.48 L637.8,399.49" fill="none" stroke="#0c0c0c" stroke-width="2.6" stroke-linejoin="round"/>
<path d="M586.8,399.49 L587.5,399.48 L588.3,399.48 L589.0,399.48 L589.8,399.47 L590.5,399.46 L591.3,399.45 L592.0,399.44 L592.8,399.43 L593.5,399.41 L594.3,399.39 L595.0,399.37 L595.8,399.34 L596.5,399.30 L597.3,399.26 L598.0,399.21 L598.8,399.14 L599.5,399.07 L600.3,398.97 L601.0,398.86 L601.8,398.72 L602.5,398.56 L603.3,398.36 L604.0,398.13 L604.8,397.85 L605.5,397.53 L606.3,397.14 L607.0,396.68 L607.8,396.15 L608.5,395.54 L609.3,394.83 L610.0,394.01 L610.8,393.08 L611.5,392.03 L612.3,390.84 L613.0,389.51 L613.8,388.04 L614.5,386.43 L615.3,384.66 L616.0,382.75 L616.8,380.71 L617.5,378.54 L618.3,376.25 L619.0,373.87 L619.8,371.42 L620.5,368.92 L621.3,366.41 L622.0,363.92 L622.8,361.49 L623.5,359.15 L624.3,356.94 L625.0,354.90 L625.8,353.07 L626.5,351.48 L627.3,350.16 L628.0,349.14 L628.8,348.43 L629.5,348.06 L630.3,348.03 L631.0,348.33 L631.8,348.97 L632.5,349.93 L633.3,351.19 L634.0,352.73 L634.8,354.52 L635.5,356.52 L636.3,358.70 L637.0,361.01 L637.8,363.43 L638.5,365.91 L639.3,368.42 L640.0,370.92 L640.8,373.38 L641.5,375.78 L642.3,378.09 L643.0,380.28 L643.8,382.36 L644.5,384.29 L645.3,386.08 L646.0,387.73 L646.8,389.23 L647.5,390.58 L648.3,391.80 L649.0,392.88 L649.8,393.83 L650.5,394.67 L651.3,395.40 L652.0,396.04 L652.8,396.58 L653.5,397.05 L654.3,397.45 L655.0,397.79 L655.8,398.08 L656.5,398.32 L657.3,398.52 L658.0,398.69 L658.8,398.83 L659.5,398.95 L660.3,399.05 L661.0,399.13 L661.8,399.20 L662.5,399.25 L663.3,399.30 L664.0,399.33 L664.8,399.36 L665.5,399.39 L666.3,399.41 L667.0,399.43 L667.8,399.44 L668.5,399.45 L669.3,399.46 L670.0,399.47 L670.8,399.47 L671.5,399.48 L672.3,399.48 L673.0,399.49" fill="none" stroke="#0c0c0c" stroke-width="2.6" stroke-linejoin="round"/>
<path d="M621.8,399.49 L622.5,399.48 L623.3,399.48 L624.0,399.48 L624.8,399.47 L625.5,399.46 L626.3,399.45 L627.0,399.44 L627.8,399.43 L628.5,399.41 L629.3,399.39 L630.0,399.37 L630.8,399.34 L631.5,399.30 L632.3,399.26 L633.0,399.21 L633.8,399.14 L634.5,399.07 L635.3,398.97 L636.0,398.86 L636.8,398.72 L637.5,398.56 L638.3,398.36 L639.0,398.13 L639.8,397.85 L640.5,397.53 L641.3,397.14 L642.0,396.68 L642.8,396.15 L643.5,395.54 L644.3,394.83 L645.0,394.01 L645.8,393.08 L646.5,392.03 L647.3,390.84 L648.0,389.51 L648.8,388.04 L649.5,386.43 L650.3,384.66 L651.0,382.75 L651.8,380.71 L652.5,378.54 L653.3,376.25 L654.0,373.87 L654.8,371.42 L655.5,368.92 L656.3,366.41 L657.0,363.92 L657.8,361.49 L658.5,359.15 L659.3,356.94 L660.0,354.90 L660.8,353.07 L661.5,351.48 L662.3,350.16 L663.0,349.14 L663.8,348.43 L664.5,348.06 L665.3,348.03 L666.0,348.33 L666.8,348.97 L667.5,349.93 L668.3,351.19 L669.0,352.73 L669.8,354.52 L670.5,356.52 L671.3,358.70 L672.0,361.01 L672.8,363.43 L673.5,365.91 L674.3,368.42 L675.0,370.92 L675.8,373.38 L676.5,375.78 L677.3,378.09 L678.0,380.28 L678.8,382.36 L679.5,384.29 L680.3,386.08 L681.0,387.73 L681.8,389.23 L682.5,390.58 L683.3,391.80 L684.0,392.88 L684.8,393.83 L685.5,394.67 L686.3,395.40 L687.0,396.04 L687.8,396.58 L688.5,397.05 L689.3,397.45 L690.0,397.79 L690.8,398.08 L691.5,398.32 L692.3,398.52 L693.0,398.69 L693.8,398.83 L694.5,398.95 L695.3,399.05 L696.0,399.13 L696.8,399.20 L697.5,399.25 L698.3,399.30 L699.0,399.33 L699.8,399.36 L700.5,399.39 L701.3,399.41 L702.0,399.43 L702.8,399.44 L703.5,399.45 L704.3,399.46 L705.0,399.47 L705.8,399.47 L706.5,399.48 L707.3,399.48 L708.0,399.49" fill="none" stroke="#0c0c0c" stroke-width="2.6" stroke-linejoin="round"/>
<path d="M664.8,399.49 L665.5,399.48 L666.3,399.48 L667.0,399.48 L667.8,399.47 L668.5,399.46 L669.3,399.45 L670.0,399.44 L670.8,399.43 L671.5,399.41 L672.3,399.39 L673.0,399.37 L673.8,399.34 L674.5,399.30 L675.3,399.26 L676.0,399.21 L676.8,399.14 L677.5,399.07 L678.3,398.97 L679.0,398.86 L679.8,398.72 L680.5,398.56 L681.3,398.36 L682.0,398.13 L682.8,397.85 L683.5,397.53 L684.3,397.14 L685.0,396.68 L685.8,396.15 L686.5,395.54 L687.3,394.83 L688.0,394.01 L688.8,393.08 L689.5,392.03 L690.3,390.84 L691.0,389.51 L691.8,388.04 L692.5,386.43 L693.3,384.66 L694.0,382.75 L694.8,380.71 L695.5,378.54 L696.3,376.25 L697.0,373.87 L697.8,371.42 L698.5,368.92 L699.3,366.41 L700.0,363.92 L700.8,361.49 L701.5,359.15 L702.3,356.94 L703.0,354.90 L703.8,353.07 L704.5,351.48 L705.3,350.16 L706.0,349.14 L706.8,348.43 L707.5,348.06 L708.3,348.03 L709.0,348.33 L709.8,348.97 L710.5,349.93 L711.3,351.19 L712.0,352.73 L712.8,354.52 L713.5,356.52 L714.3,358.70 L715.0,361.01 L715.8,363.43 L716.5,365.91 L717.3,368.42 L718.0,370.92 L718.8,373.38 L719.5,375.78 L720.3,378.09 L721.0,380.28 L721.8,382.36 L722.5,384.29 L723.3,386.08 L724.0,387.73 L724.8,389.23 L725.5,390.58 L726.3,391.80 L727.0,392.88 L727.8,393.83 L728.5,394.67 L729.3,395.40 L730.0,396.04 L730.8,396.58 L731.5,397.05 L732.3,397.45 L733.0,397.79 L733.8,398.08 L734.5,398.32 L735.3,398.52 L736.0,398.69 L736.8,398.83 L737.5,398.95 L738.3,399.05 L739.0,399.13 L739.8,399.20 L740.5,399.25 L741.3,399.30 L742.0,399.33 L742.8,399.36 L743.5,399.39 L744.3,399.41 L745.0,399.43 L745.8,399.44 L746.5,399.45 L747.3,399.46 L748.0,399.47 L748.8,399.47 L749.5,399.48 L750.3,399.48 L751.0,399.49" fill="none" stroke="#0c0c0c" stroke-width="2.6" stroke-linejoin="round"/>
</g><rect x="0" y="435" width="800" height="1" fill="#f5f5f5"/></svg>
</body></html>
